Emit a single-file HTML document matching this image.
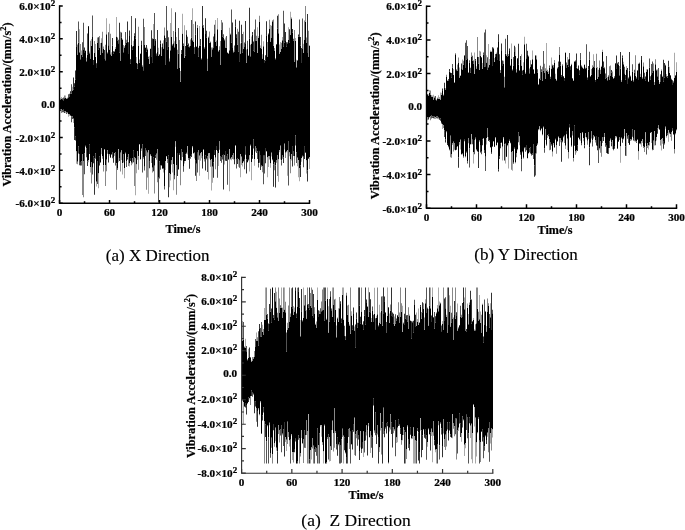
<!DOCTYPE html>
<html><head><meta charset="utf-8"><style>
html,body{margin:0;padding:0;background:#fff;}
svg{display:block;filter:grayscale(1);}
</style></head><body>
<svg width="685" height="530" viewBox="0 0 685 530">
<rect width="685" height="530" fill="#fff"/>
<path d="M60 100.0h1V109.6h-1ZM61 99.0h1V109.3h-1ZM62 99.2h1V110.2h-1ZM63 100.2h1V109.7h-1ZM64 98.3h1V111.4h-1ZM65 98.1h1V111.6h-1ZM66 98.8h1V112.3h-1ZM67 98.3h1V112.2h-1ZM68 97.3h1V114.3h-1ZM69 97.1h1V114.6h-1ZM70 93.5h1V115.0h-1ZM71 93.6h1V116.5h-1ZM72 90.5h1V116.2h-1ZM73 89.6h1V118.7h-1ZM74 86.5h1V127.3h-1ZM75 79.7h1V136.5h-1ZM76 46.2h1V151.6h-1ZM77 54.9h1V161.8h-1ZM78 42.8h1V146.2h-1ZM79 52.3h1V153.9h-1ZM80 59.3h1V162.0h-1ZM81 55.0h1V161.3h-1ZM82 56.4h1V153.9h-1ZM83 50.0h1V160.9h-1ZM84 52.9h1V153.4h-1ZM85 51.1h1V145.7h-1ZM86 61.3h1V148.6h-1ZM87 54.4h1V161.2h-1ZM88 27.0h1V160.3h-1ZM89 53.3h1V144.4h-1ZM90 58.6h1V167.0h-1ZM91 45.9h1V162.1h-1ZM92 37.1h1V167.7h-1ZM93 64.9h1V156.6h-1ZM94 52.9h1V158.3h-1ZM95 57.1h1V153.2h-1ZM96 68.0h1V181.8h-1ZM97 42.9h1V160.9h-1ZM98 49.4h1V173.5h-1ZM99 47.5h1V156.5h-1ZM100 55.0h1V162.0h-1ZM101 42.6h1V148.0h-1ZM102 52.9h1V156.5h-1ZM103 48.9h1V165.2h-1ZM104 58.9h1V148.9h-1ZM105 60.2h1V164.9h-1ZM106 34.3h1V159.8h-1ZM107 53.2h1V150.3h-1ZM108 45.3h1V154.0h-1ZM109 49.4h1V154.3h-1ZM110 54.3h1V157.3h-1ZM111 55.7h1V154.0h-1ZM112 45.6h1V152.1h-1ZM113 53.8h1V157.1h-1ZM114 51.5h1V153.2h-1ZM115 49.0h1V152.5h-1ZM116 36.6h1V163.2h-1ZM117 40.9h1V168.5h-1ZM118 43.2h1V149.3h-1ZM119 52.4h1V158.8h-1ZM120 60.5h1V152.8h-1ZM121 37.8h1V150.6h-1ZM122 39.6h1V163.3h-1ZM123 52.3h1V154.0h-1ZM124 47.6h1V167.9h-1ZM125 44.5h1V152.7h-1ZM126 43.1h1V161.4h-1ZM127 41.3h1V157.6h-1ZM128 54.0h1V154.3h-1ZM129 36.0h1V163.5h-1ZM130 63.7h1V157.9h-1ZM131 45.1h1V162.8h-1ZM132 49.8h1V157.9h-1ZM133 45.8h1V150.6h-1ZM134 35.8h1V157.4h-1ZM135 38.8h1V158.4h-1ZM136 62.9h1V164.6h-1ZM137 68.4h1V151.0h-1ZM138 45.4h1V156.2h-1ZM139 62.8h1V144.3h-1ZM140 53.9h1V159.3h-1ZM141 44.3h1V148.8h-1ZM142 66.6h1V144.6h-1ZM143 70.2h1V157.5h-1ZM144 44.9h1V166.7h-1ZM145 47.8h1V147.9h-1ZM146 51.4h1V150.7h-1ZM147 49.3h1V152.8h-1ZM148 58.8h1V149.9h-1ZM149 64.0h1V161.8h-1ZM150 49.1h1V154.6h-1ZM151 56.2h1V156.5h-1ZM152 62.3h1V167.7h-1ZM153 39.1h1V157.2h-1ZM154 45.2h1V165.8h-1ZM155 40.2h1V155.3h-1ZM156 55.3h1V153.8h-1ZM157 52.0h1V149.3h-1ZM158 55.8h1V177.7h-1ZM159 54.8h1V161.2h-1ZM160 43.6h1V165.8h-1ZM161 55.7h1V165.1h-1ZM162 46.2h1V168.2h-1ZM163 48.5h1V168.8h-1ZM164 35.2h1V186.1h-1ZM165 65.1h1V161.0h-1ZM166 41.4h1V155.9h-1ZM167 49.2h1V159.2h-1ZM168 46.6h1V155.4h-1ZM169 61.2h1V172.9h-1ZM170 50.3h1V174.4h-1ZM171 36.9h1V160.5h-1ZM172 45.3h1V157.3h-1ZM173 43.3h1V164.0h-1ZM174 47.2h1V175.8h-1ZM175 31.2h1V141.6h-1ZM176 43.8h1V164.9h-1ZM177 68.6h1V153.1h-1ZM178 53.7h1V169.1h-1ZM179 68.0h1V153.8h-1ZM180 81.7h1V160.1h-1ZM181 53.7h1V149.6h-1ZM182 33.6h1V152.0h-1ZM183 45.8h1V166.8h-1ZM184 57.8h1V161.1h-1ZM185 55.7h1V154.2h-1ZM186 34.2h1V152.1h-1ZM187 44.8h1V146.0h-1ZM188 46.4h1V157.9h-1ZM189 47.2h1V158.8h-1ZM190 46.1h1V156.6h-1ZM191 37.8h1V154.8h-1ZM192 40.2h1V146.6h-1ZM193 41.9h1V152.9h-1ZM194 54.1h1V152.7h-1ZM195 34.8h1V160.7h-1ZM196 47.0h1V163.8h-1ZM197 27.9h1V152.7h-1ZM198 56.5h1V149.9h-1ZM199 45.4h1V155.8h-1ZM200 45.7h1V153.4h-1ZM201 59.3h1V152.0h-1ZM202 25.9h1V156.1h-1ZM203 27.9h1V149.0h-1ZM204 48.4h1V159.4h-1ZM205 34.0h1V155.5h-1ZM206 37.6h1V158.7h-1ZM207 71.0h1V156.5h-1ZM208 37.6h1V153.5h-1ZM209 42.7h1V153.3h-1ZM210 42.5h1V160.0h-1ZM211 56.5h1V159.2h-1ZM212 49.2h1V166.8h-1ZM213 48.0h1V162.4h-1ZM214 33.2h1V150.1h-1ZM215 42.0h1V157.8h-1ZM216 45.5h1V146.1h-1ZM217 29.3h1V150.9h-1ZM218 51.5h1V153.1h-1ZM219 49.9h1V141.5h-1ZM220 65.1h1V155.9h-1ZM221 29.7h1V156.9h-1ZM222 36.5h1V155.4h-1ZM223 37.4h1V154.1h-1ZM224 40.3h1V155.0h-1ZM225 47.4h1V151.0h-1ZM226 47.5h1V156.1h-1ZM227 53.1h1V154.2h-1ZM228 53.7h1V158.9h-1ZM229 50.2h1V149.3h-1ZM230 34.6h1V158.7h-1ZM231 42.8h1V157.5h-1ZM232 47.9h1V155.1h-1ZM233 52.3h1V153.1h-1ZM234 51.9h1V159.7h-1ZM235 26.6h1V144.9h-1ZM236 37.3h1V159.0h-1ZM237 44.7h1V158.3h-1ZM238 51.5h1V159.3h-1ZM239 61.2h1V160.7h-1ZM240 53.5h1V154.2h-1ZM241 42.4h1V156.8h-1ZM242 52.7h1V163.0h-1ZM243 49.1h1V161.4h-1ZM244 47.0h1V159.7h-1ZM245 44.1h1V146.7h-1ZM246 62.8h1V159.4h-1ZM247 49.0h1V162.2h-1ZM248 56.0h1V159.8h-1ZM249 38.8h1V155.6h-1ZM250 56.3h1V144.7h-1ZM251 43.4h1V161.9h-1ZM252 34.8h1V155.4h-1ZM253 50.8h1V139.4h-1ZM254 51.7h1V159.1h-1ZM255 40.9h1V146.5h-1ZM256 40.8h1V147.9h-1ZM257 53.0h1V151.6h-1ZM258 37.8h1V163.3h-1ZM259 21.9h1V151.8h-1ZM260 47.7h1V155.0h-1ZM261 48.5h1V165.6h-1ZM262 58.5h1V165.9h-1ZM263 46.2h1V155.7h-1ZM264 62.9h1V155.8h-1ZM265 60.5h1V148.0h-1ZM266 35.3h1V151.1h-1ZM267 56.4h1V157.6h-1ZM268 34.2h1V156.5h-1ZM269 28.6h1V156.1h-1ZM270 41.5h1V163.5h-1ZM271 37.6h1V152.8h-1ZM272 21.4h1V159.2h-1ZM273 45.7h1V164.2h-1ZM274 50.5h1V162.5h-1ZM275 59.2h1V165.2h-1ZM276 44.8h1V159.9h-1ZM277 28.5h1V155.0h-1ZM278 33.2h1V159.5h-1ZM279 53.4h1V150.1h-1ZM280 51.8h1V145.7h-1ZM281 48.4h1V160.3h-1ZM282 40.3h1V155.5h-1ZM283 46.4h1V157.3h-1ZM284 42.5h1V143.7h-1ZM285 41.0h1V152.7h-1ZM286 46.8h1V151.5h-1ZM287 43.3h1V150.1h-1ZM288 39.9h1V141.1h-1ZM289 42.5h1V152.6h-1ZM290 35.0h1V159.0h-1ZM291 18.4h1V154.2h-1ZM292 32.5h1V146.8h-1ZM293 40.7h1V151.0h-1ZM294 61.9h1V156.4h-1ZM295 41.0h1V135.2h-1ZM296 67.2h1V152.3h-1ZM297 61.0h1V157.7h-1ZM298 36.4h1V159.9h-1ZM299 37.0h1V168.1h-1ZM300 45.5h1V165.6h-1ZM301 63.0h1V157.9h-1ZM302 49.0h1V155.8h-1ZM303 52.9h1V156.7h-1ZM304 39.6h1V146.8h-1ZM305 21.8h1V152.0h-1ZM306 42.9h1V160.5h-1ZM307 53.1h1V170.2h-1ZM308 56.9h1V158.1h-1ZM309 45.9h1V156.9h-1Z" fill="#000"/>
<path d="M60 109.6h1V111.1h-1ZM64 111.4h1V112.9h-1ZM70 91.3h1V93.5h-1ZM70 115.0h1V115.8h-1ZM73 77.5h1V89.6h-1ZM74 83.2h1V86.5h-1ZM74 127.3h1V140.0h-1ZM75 70.5h1V79.7h-1ZM75 136.5h1V140.6h-1ZM76 30.9h1V46.2h-1ZM80 162.0h1V165.4h-1ZM84 47.5h1V52.9h-1ZM85 145.7h1V146.5h-1ZM87 161.2h1V166.0h-1ZM88 26.1h1V27.0h-1ZM89 144.4h1V154.0h-1ZM93 60.0h1V64.9h-1ZM93 156.6h1V163.2h-1ZM94 158.3h1V194.7h-1ZM96 63.3h1V68.0h-1ZM98 37.2h1V49.4h-1ZM99 156.5h1V165.4h-1ZM104 50.1h1V58.9h-1ZM108 154.0h1V162.5h-1ZM110 157.3h1V158.1h-1ZM112 37.9h1V45.6h-1ZM113 51.2h1V53.8h-1ZM113 157.1h1V162.7h-1ZM117 168.5h1V169.7h-1ZM119 22.8h1V52.4h-1ZM119 158.8h1V161.1h-1ZM121 32.5h1V37.8h-1ZM127 21.6h1V41.3h-1ZM127 157.6h1V159.5h-1ZM128 42.2h1V54.0h-1ZM129 30.4h1V36.0h-1ZM130 59.2h1V63.7h-1ZM130 157.9h1V161.1h-1ZM132 46.5h1V49.8h-1ZM133 150.6h1V162.2h-1ZM135 18.2h1V38.8h-1ZM141 40.7h1V44.3h-1ZM146 45.0h1V51.4h-1ZM149 161.8h1V168.2h-1ZM151 30.3h1V56.2h-1ZM152 38.4h1V62.3h-1ZM153 157.2h1V171.2h-1ZM155 155.3h1V158.1h-1ZM157 30.1h1V52.0h-1ZM160 40.4h1V43.6h-1ZM162 43.5h1V46.2h-1ZM162 168.2h1V169.0h-1ZM167 30.6h1V49.2h-1ZM168 155.4h1V197.3h-1ZM175 12.2h1V31.2h-1ZM177 153.1h1V176.0h-1ZM185 46.1h1V55.7h-1ZM185 154.2h1V161.0h-1ZM186 152.1h1V153.6h-1ZM188 43.5h1V46.4h-1ZM189 46.4h1V47.2h-1ZM189 158.8h1V168.7h-1ZM191 154.8h1V157.1h-1ZM195 21.4h1V34.8h-1ZM195 160.7h1V175.7h-1ZM200 39.1h1V45.7h-1ZM202 6.0h1V25.9h-1ZM202 156.1h1V168.6h-1ZM204 47.6h1V48.4h-1ZM205 18.3h1V34.0h-1ZM205 155.5h1V170.5h-1ZM206 30.7h1V37.6h-1ZM210 41.7h1V42.5h-1ZM213 162.4h1V177.8h-1ZM214 150.1h1V155.1h-1ZM216 146.1h1V150.1h-1ZM223 154.1h1V189.4h-1ZM225 151.0h1V160.7h-1ZM226 156.1h1V161.0h-1ZM232 22.6h1V47.9h-1ZM234 159.7h1V164.3h-1ZM235 19.4h1V26.6h-1ZM236 34.2h1V37.3h-1ZM237 158.3h1V163.9h-1ZM239 20.7h1V61.2h-1ZM241 24.8h1V42.4h-1ZM245 20.9h1V44.1h-1ZM246 159.4h1V173.6h-1ZM249 7.8h1V38.8h-1ZM250 144.7h1V145.5h-1ZM252 32.0h1V34.8h-1ZM252 155.4h1V158.7h-1ZM253 41.4h1V50.8h-1ZM260 155.0h1V170.0h-1ZM264 60.0h1V62.9h-1ZM265 55.3h1V60.5h-1ZM265 148.0h1V163.2h-1ZM266 21.3h1V35.3h-1ZM272 159.2h1V160.2h-1ZM273 164.2h1V186.8h-1ZM275 58.4h1V59.2h-1ZM275 165.2h1V187.6h-1ZM276 44.0h1V44.8h-1ZM277 15.7h1V28.5h-1ZM283 157.3h1V163.0h-1ZM284 23.4h1V42.5h-1ZM285 32.1h1V41.0h-1ZM286 42.2h1V46.8h-1ZM289 29.2h1V42.5h-1ZM292 29.1h1V32.5h-1ZM292 146.8h1V166.6h-1ZM297 60.2h1V61.0h-1ZM298 34.4h1V36.4h-1ZM300 36.9h1V45.5h-1ZM300 165.6h1V177.0h-1ZM301 48.1h1V63.0h-1ZM302 155.8h1V156.6h-1ZM304 146.8h1V159.0h-1ZM307 13.9h1V53.1h-1ZM307 170.2h1V181.4h-1Z" fill="#333"/>
<path d="M62 98.2h1V99.2h-1ZM62 110.2h1V112.3h-1ZM63 97.6h1V100.2h-1ZM63 109.7h1V112.2h-1ZM66 112.3h1V113.9h-1ZM67 112.2h1V113.2h-1ZM68 94.3h1V97.3h-1ZM69 93.8h1V97.1h-1ZM71 84.2h1V93.6h-1ZM71 116.5h1V122.3h-1ZM72 116.2h1V119.0h-1ZM78 21.4h1V42.8h-1ZM78 146.2h1V153.6h-1ZM79 153.9h1V165.3h-1ZM81 161.3h1V165.5h-1ZM82 42.2h1V56.4h-1ZM83 22.8h1V50.0h-1ZM84 153.4h1V174.3h-1ZM86 148.6h1V157.3h-1ZM87 33.5h1V54.4h-1ZM92 15.4h1V37.1h-1ZM92 167.7h1V174.6h-1ZM95 153.2h1V158.7h-1ZM97 160.9h1V183.9h-1ZM100 162.0h1V162.8h-1ZM107 52.4h1V53.2h-1ZM108 32.2h1V45.3h-1ZM111 154.0h1V154.8h-1ZM112 152.1h1V158.2h-1ZM115 152.5h1V165.4h-1ZM117 37.6h1V40.9h-1ZM118 39.8h1V43.2h-1ZM125 31.9h1V44.5h-1ZM125 152.7h1V153.5h-1ZM126 161.4h1V167.1h-1ZM131 15.9h1V45.1h-1ZM134 33.3h1V35.8h-1ZM137 63.7h1V68.4h-1ZM142 65.6h1V66.6h-1ZM142 144.6h1V172.5h-1ZM143 18.8h1V70.2h-1ZM144 166.7h1V170.6h-1ZM145 147.9h1V156.0h-1ZM148 56.8h1V58.8h-1ZM154 12.9h1V45.2h-1ZM155 38.9h1V40.2h-1ZM156 53.4h1V55.3h-1ZM158 177.7h1V202.5h-1ZM159 54.0h1V54.8h-1ZM159 161.2h1V178.6h-1ZM160 165.8h1V169.7h-1ZM164 186.1h1V189.6h-1ZM165 38.0h1V65.1h-1ZM166 6.0h1V41.4h-1ZM168 37.2h1V46.6h-1ZM174 175.8h1V179.2h-1ZM178 28.1h1V53.7h-1ZM179 153.8h1V155.1h-1ZM181 50.0h1V53.7h-1ZM181 149.6h1V160.5h-1ZM183 43.6h1V45.8h-1ZM183 166.8h1V171.8h-1ZM186 30.2h1V34.2h-1ZM187 36.8h1V44.8h-1ZM190 156.6h1V158.7h-1ZM191 20.1h1V37.8h-1ZM194 47.3h1V54.1h-1ZM197 152.7h1V172.4h-1ZM198 47.7h1V56.5h-1ZM201 58.5h1V59.3h-1ZM203 149.0h1V149.8h-1ZM207 156.5h1V172.1h-1ZM208 36.8h1V37.6h-1ZM213 36.5h1V48.0h-1ZM214 24.7h1V33.2h-1ZM217 150.9h1V177.8h-1ZM218 50.7h1V51.5h-1ZM220 155.9h1V161.1h-1ZM221 156.9h1V162.8h-1ZM222 22.6h1V36.5h-1ZM222 155.4h1V159.5h-1ZM223 34.2h1V37.4h-1ZM224 39.5h1V40.3h-1ZM226 36.0h1V47.5h-1ZM227 154.2h1V184.7h-1ZM228 158.9h1V159.7h-1ZM230 33.8h1V34.6h-1ZM231 9.5h1V42.8h-1ZM234 45.4h1V51.9h-1ZM236 159.0h1V168.4h-1ZM238 31.7h1V51.5h-1ZM239 160.7h1V167.8h-1ZM242 33.9h1V52.7h-1ZM244 42.5h1V47.0h-1ZM244 159.7h1V169.2h-1ZM245 146.7h1V154.7h-1ZM247 40.8h1V49.0h-1ZM248 159.8h1V160.6h-1ZM253 139.4h1V148.4h-1ZM254 29.4h1V51.7h-1ZM255 19.4h1V40.9h-1ZM256 147.9h1V152.9h-1ZM257 151.6h1V159.1h-1ZM258 163.3h1V167.6h-1ZM259 151.8h1V162.8h-1ZM261 165.6h1V166.4h-1ZM263 155.7h1V184.3h-1ZM264 155.8h1V173.6h-1ZM268 33.4h1V34.2h-1ZM272 20.6h1V21.4h-1ZM281 160.3h1V165.6h-1ZM283 10.7h1V46.4h-1ZM288 141.1h1V185.4h-1ZM293 38.7h1V40.7h-1ZM293 151.0h1V155.9h-1ZM295 135.2h1V145.6h-1ZM296 152.3h1V162.9h-1ZM299 19.4h1V37.0h-1ZM302 18.5h1V49.0h-1ZM303 156.7h1V167.2h-1ZM305 152.0h1V153.1h-1ZM308 158.1h1V159.0h-1Z" fill="#555"/>
<path d="M60 98.6h1V100.0h-1ZM61 109.3h1V113.0h-1ZM64 95.6h1V98.3h-1ZM77 44.6h1V54.9h-1ZM77 161.8h1V164.2h-1ZM80 43.9h1V59.3h-1ZM82 153.9h1V195.0h-1ZM83 160.9h1V197.3h-1ZM90 40.7h1V58.6h-1ZM91 162.1h1V183.4h-1ZM94 40.9h1V52.9h-1ZM97 37.4h1V42.9h-1ZM99 36.1h1V47.5h-1ZM102 31.8h1V52.9h-1ZM102 156.5h1V158.7h-1ZM103 46.5h1V48.9h-1ZM103 165.2h1V171.4h-1ZM104 148.9h1V149.7h-1ZM105 44.7h1V60.2h-1ZM105 164.9h1V186.0h-1ZM106 159.8h1V171.2h-1ZM107 150.3h1V153.8h-1ZM110 33.8h1V54.3h-1ZM114 50.7h1V51.5h-1ZM116 163.2h1V189.7h-1ZM120 31.7h1V60.5h-1ZM120 152.8h1V171.6h-1ZM123 45.1h1V52.3h-1ZM123 154.0h1V162.6h-1ZM124 46.2h1V47.6h-1ZM126 39.7h1V43.1h-1ZM128 154.3h1V166.1h-1ZM131 162.8h1V165.2h-1ZM132 157.9h1V163.5h-1ZM134 157.4h1V185.9h-1ZM138 26.8h1V45.4h-1ZM138 156.2h1V169.8h-1ZM139 59.6h1V62.8h-1ZM143 157.5h1V158.7h-1ZM144 27.1h1V44.9h-1ZM146 150.7h1V189.8h-1ZM147 152.8h1V177.5h-1ZM150 154.6h1V155.4h-1ZM151 156.5h1V163.1h-1ZM152 167.7h1V172.6h-1ZM154 165.8h1V193.5h-1ZM156 153.8h1V159.8h-1ZM157 149.3h1V182.2h-1ZM161 165.1h1V165.9h-1ZM164 27.4h1V35.2h-1ZM167 159.2h1V162.9h-1ZM171 160.5h1V164.6h-1ZM172 44.2h1V45.3h-1ZM173 30.9h1V43.3h-1ZM176 164.9h1V194.8h-1ZM177 49.7h1V68.6h-1ZM178 169.1h1V169.9h-1ZM179 39.9h1V68.0h-1ZM180 71.0h1V81.7h-1ZM180 160.1h1V185.2h-1ZM182 152.0h1V157.1h-1ZM188 157.9h1V160.1h-1ZM190 39.5h1V46.1h-1ZM196 46.2h1V47.0h-1ZM196 163.8h1V181.1h-1ZM197 25.0h1V27.9h-1ZM198 149.9h1V159.8h-1ZM203 25.1h1V27.9h-1ZM204 159.4h1V161.6h-1ZM206 158.7h1V159.5h-1ZM207 58.8h1V71.0h-1ZM209 31.4h1V42.7h-1ZM210 160.0h1V166.7h-1ZM211 47.6h1V56.5h-1ZM212 47.4h1V49.2h-1ZM215 157.8h1V169.3h-1ZM216 40.5h1V45.5h-1ZM219 46.2h1V49.9h-1ZM219 141.5h1V149.7h-1ZM220 40.9h1V65.1h-1ZM221 20.0h1V29.7h-1ZM227 52.3h1V53.1h-1ZM228 52.9h1V53.7h-1ZM230 158.7h1V159.5h-1ZM232 155.1h1V159.1h-1ZM233 153.1h1V159.6h-1ZM235 144.9h1V145.9h-1ZM237 28.8h1V44.7h-1ZM246 49.4h1V62.8h-1ZM248 55.2h1V56.0h-1ZM250 44.8h1V56.3h-1ZM255 146.5h1V151.5h-1ZM256 35.8h1V40.8h-1ZM259 15.8h1V21.9h-1ZM261 34.8h1V48.5h-1ZM262 165.9h1V172.2h-1ZM267 42.1h1V56.4h-1ZM269 19.7h1V28.6h-1ZM269 156.1h1V159.6h-1ZM271 25.8h1V37.6h-1ZM273 19.4h1V45.7h-1ZM274 47.9h1V50.5h-1ZM274 162.5h1V170.2h-1ZM276 159.9h1V162.8h-1ZM277 155.0h1V176.0h-1ZM278 14.3h1V33.2h-1ZM281 42.7h1V48.4h-1ZM282 155.5h1V158.7h-1ZM285 152.7h1V157.9h-1ZM286 151.5h1V152.3h-1ZM287 42.1h1V43.3h-1ZM290 159.0h1V173.2h-1ZM291 17.6h1V18.4h-1ZM294 30.1h1V61.9h-1ZM294 156.4h1V165.6h-1ZM304 20.4h1V39.6h-1ZM305 6.0h1V21.8h-1ZM306 37.5h1V42.9h-1ZM308 30.8h1V56.9h-1Z" fill="#888"/>
<path d="M61 97.1h1V99.0h-1ZM65 95.4h1V98.1h-1ZM65 111.6h1V113.1h-1ZM66 97.9h1V98.8h-1ZM67 97.5h1V98.3h-1ZM68 114.3h1V116.7h-1ZM69 114.6h1V115.8h-1ZM72 86.7h1V90.5h-1ZM73 118.7h1V123.1h-1ZM76 151.6h1V163.7h-1ZM79 29.2h1V52.3h-1ZM81 50.6h1V55.0h-1ZM85 50.3h1V51.1h-1ZM86 57.7h1V61.3h-1ZM88 160.3h1V162.2h-1ZM89 51.4h1V53.3h-1ZM90 167.0h1V172.6h-1ZM91 38.9h1V45.9h-1ZM95 44.1h1V57.1h-1ZM96 181.8h1V186.5h-1ZM98 173.5h1V188.3h-1ZM100 43.0h1V55.0h-1ZM101 38.2h1V42.6h-1ZM101 148.0h1V154.2h-1ZM106 18.3h1V34.3h-1ZM109 23.8h1V49.4h-1ZM109 154.3h1V155.6h-1ZM111 52.2h1V55.7h-1ZM114 153.2h1V155.9h-1ZM115 46.9h1V49.0h-1ZM116 17.1h1V36.6h-1ZM118 149.3h1V162.2h-1ZM121 150.6h1V160.0h-1ZM122 38.8h1V39.6h-1ZM122 163.3h1V174.5h-1ZM124 167.9h1V178.2h-1ZM129 163.5h1V166.6h-1ZM133 40.7h1V45.8h-1ZM135 158.4h1V195.3h-1ZM136 57.0h1V62.9h-1ZM136 164.6h1V173.3h-1ZM137 151.0h1V159.7h-1ZM139 144.3h1V145.1h-1ZM140 53.1h1V53.9h-1ZM140 159.3h1V160.1h-1ZM141 148.8h1V151.0h-1ZM145 47.0h1V47.8h-1ZM147 47.7h1V49.3h-1ZM148 149.9h1V193.7h-1ZM149 55.7h1V64.0h-1ZM150 48.3h1V49.1h-1ZM153 24.1h1V39.1h-1ZM158 47.8h1V55.8h-1ZM161 47.3h1V55.7h-1ZM163 40.2h1V48.5h-1ZM163 168.8h1V172.6h-1ZM165 161.0h1V170.1h-1ZM166 155.9h1V156.7h-1ZM169 58.4h1V61.2h-1ZM169 172.9h1V187.3h-1ZM170 23.1h1V50.3h-1ZM170 174.4h1V180.6h-1ZM171 8.3h1V36.9h-1ZM172 157.3h1V172.6h-1ZM173 164.0h1V190.2h-1ZM174 41.3h1V47.2h-1ZM175 141.6h1V146.7h-1ZM176 37.1h1V43.8h-1ZM182 13.8h1V33.6h-1ZM184 25.2h1V57.8h-1ZM184 161.1h1V163.6h-1ZM187 146.0h1V154.6h-1ZM192 8.3h1V40.2h-1ZM192 146.6h1V147.4h-1ZM193 24.1h1V41.9h-1ZM193 152.9h1V154.1h-1ZM194 152.7h1V158.4h-1ZM199 25.9h1V45.4h-1ZM199 155.8h1V175.8h-1ZM200 153.4h1V160.7h-1ZM201 152.0h1V158.2h-1ZM208 153.5h1V179.5h-1ZM209 153.3h1V158.6h-1ZM211 159.2h1V190.4h-1ZM212 166.8h1V182.8h-1ZM215 20.1h1V42.0h-1ZM217 17.9h1V29.3h-1ZM218 153.1h1V165.9h-1ZM224 155.0h1V164.6h-1ZM225 37.5h1V47.4h-1ZM229 27.8h1V50.2h-1ZM229 149.3h1V191.2h-1ZM231 157.5h1V160.2h-1ZM233 50.6h1V52.3h-1ZM238 159.3h1V166.7h-1ZM240 43.4h1V53.5h-1ZM240 154.2h1V177.3h-1ZM241 156.8h1V165.1h-1ZM242 163.0h1V166.5h-1ZM243 31.7h1V49.1h-1ZM243 161.4h1V162.2h-1ZM247 162.2h1V163.0h-1ZM249 155.6h1V171.5h-1ZM251 36.5h1V43.4h-1ZM251 161.9h1V180.3h-1ZM254 159.1h1V165.7h-1ZM257 27.2h1V53.0h-1ZM258 36.3h1V37.8h-1ZM260 45.6h1V47.7h-1ZM262 54.2h1V58.5h-1ZM263 41.3h1V46.2h-1ZM266 151.1h1V151.9h-1ZM267 157.6h1V177.2h-1ZM268 156.5h1V167.0h-1ZM270 25.0h1V41.5h-1ZM270 163.5h1V167.8h-1ZM271 152.8h1V156.6h-1ZM278 159.5h1V181.7h-1ZM279 44.6h1V53.4h-1ZM279 150.1h1V152.3h-1ZM280 42.1h1V51.8h-1ZM280 145.7h1V159.5h-1ZM282 37.0h1V40.3h-1ZM284 143.7h1V149.4h-1ZM287 150.1h1V175.7h-1ZM288 27.3h1V39.9h-1ZM289 152.6h1V156.3h-1ZM290 11.8h1V35.0h-1ZM291 154.2h1V160.6h-1ZM295 38.1h1V41.0h-1ZM296 59.7h1V67.2h-1ZM297 157.7h1V166.2h-1ZM298 159.9h1V177.2h-1ZM299 168.1h1V181.2h-1ZM301 157.9h1V161.8h-1ZM303 43.8h1V52.9h-1ZM306 160.5h1V173.5h-1ZM309 45.1h1V45.9h-1ZM309 156.9h1V169.1h-1Z" fill="#aaa"/>
<path d="M59.55 6V203.2H309.5" stroke="#000" stroke-width="1.4" fill="none" stroke-linecap="square"/>
<path d="M59.55 6.00h3.2M59.55 22.43h2M59.55 38.87h3.2M59.55 55.30h2M59.55 71.73h3.2M59.55 88.17h2M59.55 104.60h3.2M59.55 121.03h2M59.55 137.47h3.2M59.55 153.90h2M59.55 170.33h3.2M59.55 186.77h2M59.55 203.20h3.2M59.55 203.2v-3.2M84.54 203.2v-2M109.54 203.2v-3.2M134.53 203.2v-2M159.53 203.2v-3.2M184.52 203.2v-2M209.52 203.2v-3.2M234.51 203.2v-2M259.51 203.2v-3.2M284.50 203.2v-2M309.50 203.2v-3.2" stroke="#000" stroke-width="1.5" fill="none"/>
<text transform="translate(55.15,10.20) scale(1.2,1)" text-anchor="end" font-family='"Liberation Serif", serif' font-weight="bold" font-size="9.3" stroke="#000" stroke-width="0.2" >6.0×10<tspan font-size="7.5" dy="-4">2</tspan></text>
<text transform="translate(55.15,43.07) scale(1.2,1)" text-anchor="end" font-family='"Liberation Serif", serif' font-weight="bold" font-size="9.3" stroke="#000" stroke-width="0.2" >4.0×10<tspan font-size="7.5" dy="-4">2</tspan></text>
<text transform="translate(55.15,75.93) scale(1.2,1)" text-anchor="end" font-family='"Liberation Serif", serif' font-weight="bold" font-size="9.3" stroke="#000" stroke-width="0.2" >2.0×10<tspan font-size="7.5" dy="-4">2</tspan></text>
<text transform="translate(55.15,107.70) scale(1.2,1)" text-anchor="end" font-family='"Liberation Serif", serif' font-weight="bold" font-size="9.3" stroke="#000" stroke-width="0.2" >0.0</text>
<text transform="translate(55.15,141.67) scale(1.2,1)" text-anchor="end" font-family='"Liberation Serif", serif' font-weight="bold" font-size="9.3" stroke="#000" stroke-width="0.2" >-2.0×10<tspan font-size="7.5" dy="-4">2</tspan></text>
<text transform="translate(55.15,174.53) scale(1.2,1)" text-anchor="end" font-family='"Liberation Serif", serif' font-weight="bold" font-size="9.3" stroke="#000" stroke-width="0.2" >-4.0×10<tspan font-size="7.5" dy="-4">2</tspan></text>
<text transform="translate(55.15,207.40) scale(1.2,1)" text-anchor="end" font-family='"Liberation Serif", serif' font-weight="bold" font-size="9.3" stroke="#000" stroke-width="0.2" >-6.0×10<tspan font-size="7.5" dy="-4">2</tspan></text>
<text transform="translate(59.55,215.70) scale(1.2,1)" text-anchor="middle" font-family='"Liberation Serif", serif' font-weight="bold" font-size="9.3" stroke="#000" stroke-width="0.2" >0</text>
<text transform="translate(109.54,215.70) scale(1.2,1)" text-anchor="middle" font-family='"Liberation Serif", serif' font-weight="bold" font-size="9.3" stroke="#000" stroke-width="0.2" >60</text>
<text transform="translate(159.53,215.70) scale(1.2,1)" text-anchor="middle" font-family='"Liberation Serif", serif' font-weight="bold" font-size="9.3" stroke="#000" stroke-width="0.2" >120</text>
<text transform="translate(209.52,215.70) scale(1.2,1)" text-anchor="middle" font-family='"Liberation Serif", serif' font-weight="bold" font-size="9.3" stroke="#000" stroke-width="0.2" >180</text>
<text transform="translate(259.51,215.70) scale(1.2,1)" text-anchor="middle" font-family='"Liberation Serif", serif' font-weight="bold" font-size="9.3" stroke="#000" stroke-width="0.2" >240</text>
<text transform="translate(309.50,215.70) scale(1.2,1)" text-anchor="middle" font-family='"Liberation Serif", serif' font-weight="bold" font-size="9.3" stroke="#000" stroke-width="0.2" >300</text>
<text transform="translate(183.00,233.00) scale(1.05,1)" text-anchor="middle" font-family='"Liberation Serif", serif' font-weight="bold" font-size="11.6" stroke="#000" stroke-width="0.2" >Time/s</text>
<text transform="translate(10.5,104.5) rotate(-90) scale(1.058,1)" text-anchor="middle" font-family='"Liberation Serif", serif' font-weight="bold" font-size="11.65" stroke="#000" stroke-width="0.2">Vibration Acceleration/(mm/s<tspan font-size="8" dy="-4.8">2</tspan><tspan dy="4.8">)</tspan></text>
<text transform="translate(157.70,260.60) scale(1.0,1)" text-anchor="middle" font-family='"Liberation Serif", serif' font-weight="normal" font-size="17" stroke="#000" stroke-width="0.15" xml:space="preserve">(a) X Direction</text>
<path d="M427 95.1h1V117.1h-1ZM428 95.7h1V116.9h-1ZM429 92.8h1V116.9h-1ZM430 94.6h1V115.9h-1ZM431 96.9h1V115.0h-1ZM432 96.7h1V116.5h-1ZM433 99.5h1V116.3h-1ZM434 97.4h1V116.8h-1ZM435 99.3h1V117.3h-1ZM436 100.3h1V116.5h-1ZM437 98.5h1V116.6h-1ZM438 98.9h1V117.7h-1ZM439 99.0h1V117.9h-1ZM440 99.6h1V118.5h-1ZM441 95.1h1V122.8h-1ZM442 91.1h1V124.5h-1ZM443 95.2h1V125.3h-1ZM444 87.2h1V130.4h-1ZM445 89.5h1V139.6h-1ZM446 76.6h1V131.5h-1ZM447 80.9h1V142.9h-1ZM448 80.9h1V146.5h-1ZM449 71.8h1V149.4h-1ZM450 72.7h1V135.8h-1ZM451 77.4h1V154.4h-1ZM452 67.7h1V143.2h-1ZM453 74.8h1V141.7h-1ZM454 82.8h1V142.9h-1ZM455 54.4h1V150.0h-1ZM456 70.3h1V146.9h-1ZM457 70.9h1V146.0h-1ZM458 62.5h1V157.6h-1ZM459 77.4h1V142.2h-1ZM460 75.9h1V139.8h-1ZM461 69.1h1V154.0h-1ZM462 69.4h1V153.4h-1ZM463 64.8h1V156.6h-1ZM464 55.8h1V139.8h-1ZM465 68.1h1V156.4h-1ZM466 59.7h1V151.7h-1ZM467 58.2h1V161.5h-1ZM468 72.7h1V137.9h-1ZM469 62.4h1V148.5h-1ZM470 72.4h1V144.2h-1ZM471 56.9h1V134.1h-1ZM472 60.7h1V139.8h-1ZM473 63.4h1V152.0h-1ZM474 73.9h1V140.1h-1ZM475 60.8h1V137.7h-1ZM476 68.6h1V149.4h-1ZM477 56.5h1V151.3h-1ZM478 63.8h1V152.3h-1ZM479 69.9h1V140.3h-1ZM480 55.7h1V144.9h-1ZM481 57.7h1V151.8h-1ZM482 68.8h1V139.2h-1ZM483 54.8h1V137.9h-1ZM484 66.4h1V150.0h-1ZM485 66.3h1V156.8h-1ZM486 62.6h1V138.2h-1ZM487 69.6h1V128.1h-1ZM488 67.2h1V137.0h-1ZM489 65.0h1V140.3h-1ZM490 51.4h1V147.0h-1ZM491 51.8h1V152.8h-1ZM492 65.3h1V146.0h-1ZM493 48.6h1V140.9h-1ZM494 61.7h1V146.1h-1ZM495 57.0h1V137.4h-1ZM496 53.4h1V145.2h-1ZM497 59.2h1V142.2h-1ZM498 42.0h1V169.2h-1ZM499 61.0h1V156.5h-1ZM500 72.6h1V143.4h-1ZM501 51.1h1V142.2h-1ZM502 65.3h1V146.8h-1ZM503 64.0h1V137.1h-1ZM504 87.3h1V144.2h-1ZM505 53.8h1V143.7h-1ZM506 55.8h1V156.1h-1ZM507 56.5h1V145.4h-1ZM508 55.9h1V143.4h-1ZM509 51.0h1V139.8h-1ZM510 65.6h1V141.9h-1ZM511 58.7h1V152.1h-1ZM512 70.3h1V151.0h-1ZM513 65.6h1V162.7h-1ZM514 51.9h1V147.8h-1ZM515 55.8h1V162.5h-1ZM516 72.3h1V153.6h-1ZM517 58.9h1V149.5h-1ZM518 64.8h1V132.5h-1ZM519 71.1h1V136.5h-1ZM520 59.8h1V152.7h-1ZM521 65.6h1V159.4h-1ZM522 74.5h1V151.7h-1ZM523 69.6h1V157.8h-1ZM524 44.2h1V147.8h-1ZM525 73.4h1V147.8h-1ZM526 58.2h1V145.1h-1ZM527 55.0h1V157.9h-1ZM528 56.3h1V152.9h-1ZM529 73.2h1V148.3h-1ZM530 67.1h1V147.5h-1ZM531 64.8h1V154.6h-1ZM532 59.2h1V153.1h-1ZM533 70.0h1V144.1h-1ZM534 73.7h1V165.3h-1ZM535 55.8h1V153.7h-1ZM536 59.2h1V145.9h-1ZM537 72.5h1V143.4h-1ZM538 85.1h1V129.5h-1ZM539 79.1h1V126.5h-1ZM540 79.7h1V130.4h-1ZM541 71.7h1V128.2h-1ZM542 80.8h1V134.7h-1ZM543 70.4h1V126.8h-1ZM544 72.5h1V148.5h-1ZM545 79.0h1V128.9h-1ZM546 70.5h1V144.8h-1ZM547 71.9h1V135.3h-1ZM548 73.9h1V134.4h-1ZM549 67.4h1V139.2h-1ZM550 79.1h1V142.1h-1ZM551 68.4h1V144.2h-1ZM552 65.6h1V151.8h-1ZM553 67.3h1V143.3h-1ZM554 62.4h1V147.0h-1ZM555 78.6h1V137.9h-1ZM556 80.5h1V145.4h-1ZM557 68.2h1V141.2h-1ZM558 66.4h1V136.8h-1ZM559 54.4h1V138.2h-1ZM560 65.5h1V138.6h-1ZM561 76.3h1V140.3h-1ZM562 65.4h1V141.7h-1ZM563 76.9h1V136.5h-1ZM564 80.9h1V135.8h-1ZM565 52.9h1V145.8h-1ZM566 68.0h1V131.1h-1ZM567 65.0h1V138.7h-1ZM568 66.7h1V152.5h-1ZM569 59.1h1V124.7h-1ZM570 69.9h1V137.3h-1ZM571 64.6h1V145.7h-1ZM572 78.8h1V131.1h-1ZM573 80.9h1V158.3h-1ZM574 62.0h1V125.4h-1ZM575 61.2h1V151.4h-1ZM576 67.4h1V150.6h-1ZM577 69.0h1V145.3h-1ZM578 69.1h1V137.3h-1ZM579 74.7h1V139.4h-1ZM580 59.8h1V132.9h-1ZM581 66.2h1V143.1h-1ZM582 67.6h1V132.4h-1ZM583 68.8h1V137.9h-1ZM584 64.7h1V145.5h-1ZM585 68.6h1V133.0h-1ZM586 67.4h1V137.6h-1ZM587 79.9h1V140.8h-1ZM588 69.6h1V132.0h-1ZM589 59.5h1V147.4h-1ZM590 76.8h1V142.7h-1ZM591 74.7h1V131.5h-1ZM592 67.7h1V140.2h-1ZM593 66.6h1V135.5h-1ZM594 68.0h1V135.9h-1ZM595 82.0h1V139.9h-1ZM596 68.0h1V135.9h-1ZM597 79.1h1V146.8h-1ZM598 76.6h1V137.1h-1ZM599 67.5h1V148.6h-1ZM600 73.4h1V141.5h-1ZM601 66.6h1V146.6h-1ZM602 51.9h1V137.4h-1ZM603 67.6h1V137.1h-1ZM604 68.3h1V133.2h-1ZM605 78.7h1V143.6h-1ZM606 77.4h1V145.8h-1ZM607 80.3h1V152.9h-1ZM608 76.4h1V147.9h-1ZM609 79.4h1V141.6h-1ZM610 76.0h1V138.7h-1ZM611 72.5h1V142.3h-1ZM612 76.9h1V140.1h-1ZM613 79.0h1V149.5h-1ZM614 77.9h1V146.7h-1ZM615 63.8h1V136.0h-1ZM616 68.2h1V136.4h-1ZM617 63.2h1V148.1h-1ZM618 64.8h1V141.1h-1ZM619 75.2h1V137.4h-1ZM620 68.6h1V146.4h-1ZM621 81.6h1V137.8h-1ZM622 57.6h1V139.2h-1ZM623 64.2h1V138.7h-1ZM624 73.3h1V129.1h-1ZM625 79.4h1V146.2h-1ZM626 69.5h1V133.2h-1ZM627 84.0h1V136.8h-1ZM628 78.3h1V135.5h-1ZM629 70.7h1V144.1h-1ZM630 76.2h1V139.2h-1ZM631 80.7h1V139.5h-1ZM632 71.5h1V129.5h-1ZM633 81.4h1V138.7h-1ZM634 72.4h1V130.6h-1ZM635 75.8h1V140.8h-1ZM636 78.4h1V141.3h-1ZM637 70.8h1V139.3h-1ZM638 80.1h1V151.6h-1ZM639 63.3h1V142.9h-1ZM640 77.1h1V143.5h-1ZM641 59.9h1V141.0h-1ZM642 78.5h1V139.2h-1ZM643 66.3h1V146.4h-1ZM644 79.1h1V147.1h-1ZM645 80.7h1V132.6h-1ZM646 72.0h1V146.6h-1ZM647 69.8h1V143.3h-1ZM648 81.8h1V145.6h-1ZM649 67.4h1V142.3h-1ZM650 79.4h1V132.1h-1ZM651 74.3h1V132.2h-1ZM652 72.6h1V149.7h-1ZM653 71.0h1V140.8h-1ZM654 85.0h1V131.3h-1ZM655 64.3h1V141.8h-1ZM656 70.5h1V137.2h-1ZM657 76.3h1V128.4h-1ZM658 79.8h1V125.6h-1ZM659 83.8h1V129.2h-1ZM660 82.0h1V140.2h-1ZM661 70.9h1V138.9h-1ZM662 76.6h1V138.2h-1ZM663 81.6h1V141.8h-1ZM664 77.8h1V142.9h-1ZM665 65.3h1V126.8h-1ZM666 76.3h1V136.5h-1ZM667 77.6h1V133.0h-1ZM668 66.8h1V130.1h-1ZM669 72.8h1V132.8h-1ZM670 75.9h1V134.1h-1ZM671 80.1h1V132.4h-1ZM672 84.9h1V127.9h-1ZM673 82.4h1V134.1h-1ZM674 78.0h1V149.4h-1ZM675 76.0h1V133.5h-1ZM676 72.1h1V129.4h-1Z" fill="#000"/>
<path d="M428 116.9h1V119.6h-1ZM433 116.3h1V118.2h-1ZM439 117.9h1V119.8h-1ZM440 118.5h1V120.8h-1ZM441 122.8h1V123.6h-1ZM442 88.6h1V91.1h-1ZM444 82.7h1V87.2h-1ZM445 139.6h1V142.5h-1ZM447 142.9h1V145.1h-1ZM449 69.0h1V71.8h-1ZM449 149.4h1V150.2h-1ZM451 73.1h1V77.4h-1ZM455 53.6h1V54.4h-1ZM456 69.5h1V70.3h-1ZM456 146.9h1V149.7h-1ZM458 157.6h1V167.8h-1ZM461 63.5h1V69.1h-1ZM463 156.6h1V157.4h-1ZM466 151.7h1V152.5h-1ZM475 59.1h1V60.8h-1ZM478 152.3h1V167.9h-1ZM480 144.9h1V152.4h-1ZM481 56.9h1V57.7h-1ZM482 139.2h1V145.3h-1ZM488 137.0h1V141.1h-1ZM491 152.8h1V153.7h-1ZM492 47.3h1V65.3h-1ZM492 146.0h1V146.8h-1ZM493 47.8h1V48.6h-1ZM494 146.1h1V146.9h-1ZM497 47.4h1V59.2h-1ZM498 34.2h1V42.0h-1ZM498 169.2h1V171.5h-1ZM500 143.4h1V148.3h-1ZM501 43.4h1V51.1h-1ZM501 142.2h1V143.0h-1ZM502 60.5h1V65.3h-1ZM504 144.2h1V160.5h-1ZM506 156.1h1V156.9h-1ZM507 35.1h1V56.5h-1ZM509 48.4h1V51.0h-1ZM509 139.8h1V140.8h-1ZM510 141.9h1V143.3h-1ZM514 45.7h1V51.9h-1ZM518 43.7h1V64.8h-1ZM520 56.1h1V59.8h-1ZM522 70.6h1V74.5h-1ZM526 145.1h1V150.2h-1ZM527 50.8h1V55.0h-1ZM530 147.5h1V153.4h-1ZM531 64.0h1V64.8h-1ZM531 154.6h1V155.4h-1ZM533 69.2h1V70.0h-1ZM534 165.3h1V176.8h-1ZM537 143.4h1V144.4h-1ZM546 144.8h1V145.6h-1ZM548 134.4h1V136.2h-1ZM551 144.2h1V145.4h-1ZM552 64.8h1V65.6h-1ZM555 137.9h1V139.6h-1ZM560 61.7h1V65.5h-1ZM561 140.3h1V161.8h-1ZM562 64.6h1V65.4h-1ZM563 136.5h1V137.3h-1ZM564 78.1h1V80.9h-1ZM566 131.1h1V134.2h-1ZM568 59.4h1V66.7h-1ZM569 124.7h1V127.6h-1ZM570 66.2h1V69.9h-1ZM571 145.7h1V146.5h-1ZM572 78.0h1V78.8h-1ZM574 125.4h1V145.7h-1ZM575 60.4h1V61.2h-1ZM576 53.6h1V67.4h-1ZM577 145.3h1V150.9h-1ZM578 65.5h1V69.1h-1ZM578 137.3h1V138.1h-1ZM579 70.3h1V74.7h-1ZM584 145.5h1V148.3h-1ZM587 77.6h1V79.9h-1ZM588 66.0h1V69.6h-1ZM589 147.4h1V165.3h-1ZM595 79.9h1V82.0h-1ZM596 135.9h1V145.5h-1ZM597 146.8h1V150.2h-1ZM603 61.6h1V67.6h-1ZM603 137.1h1V141.0h-1ZM604 67.5h1V68.3h-1ZM607 152.9h1V153.7h-1ZM608 75.6h1V76.4h-1ZM611 70.1h1V72.5h-1ZM611 142.3h1V146.2h-1ZM613 149.5h1V150.3h-1ZM614 146.7h1V148.7h-1ZM615 63.0h1V63.8h-1ZM616 55.4h1V68.2h-1ZM620 51.9h1V68.6h-1ZM622 55.4h1V57.6h-1ZM622 139.2h1V142.7h-1ZM625 75.1h1V79.4h-1ZM625 146.2h1V155.7h-1ZM627 68.1h1V84.0h-1ZM629 52.1h1V70.7h-1ZM629 144.1h1V144.9h-1ZM631 139.5h1V140.3h-1ZM633 80.6h1V81.4h-1ZM633 138.7h1V140.5h-1ZM636 77.6h1V78.4h-1ZM638 63.8h1V80.1h-1ZM641 55.9h1V59.9h-1ZM645 76.6h1V80.7h-1ZM650 132.1h1V132.9h-1ZM656 69.7h1V70.5h-1ZM657 128.4h1V133.7h-1ZM663 59.8h1V81.6h-1ZM663 141.8h1V148.7h-1ZM664 63.0h1V77.8h-1ZM668 60.8h1V66.8h-1ZM672 80.3h1V84.9h-1ZM673 81.6h1V82.4h-1ZM675 75.2h1V76.0h-1ZM676 129.4h1V130.2h-1Z" fill="#333"/>
<path d="M427 93.9h1V95.1h-1ZM431 115.0h1V118.6h-1ZM432 116.5h1V118.1h-1ZM435 96.0h1V99.3h-1ZM436 116.5h1V118.3h-1ZM437 97.7h1V98.5h-1ZM437 116.6h1V118.5h-1ZM444 130.4h1V136.9h-1ZM448 78.9h1V80.9h-1ZM448 146.5h1V147.3h-1ZM452 64.0h1V67.7h-1ZM462 153.4h1V154.2h-1ZM464 55.0h1V55.8h-1ZM464 139.8h1V141.3h-1ZM465 42.8h1V68.1h-1ZM465 156.4h1V157.2h-1ZM466 40.3h1V59.7h-1ZM467 46.1h1V58.2h-1ZM467 161.5h1V163.5h-1ZM469 60.2h1V62.4h-1ZM469 148.5h1V167.4h-1ZM470 67.7h1V72.4h-1ZM472 55.7h1V60.7h-1ZM472 139.8h1V144.2h-1ZM473 60.4h1V63.4h-1ZM474 140.1h1V154.2h-1ZM476 149.4h1V150.2h-1ZM478 57.1h1V63.8h-1ZM479 140.3h1V141.4h-1ZM481 151.8h1V154.2h-1ZM483 52.5h1V54.8h-1ZM484 32.5h1V66.4h-1ZM484 150.0h1V152.9h-1ZM485 29.6h1V66.3h-1ZM485 156.8h1V170.9h-1ZM487 57.3h1V69.6h-1ZM489 140.3h1V141.8h-1ZM495 53.9h1V57.0h-1ZM497 142.2h1V143.0h-1ZM499 54.2h1V61.0h-1ZM499 156.5h1V158.9h-1ZM505 38.8h1V53.8h-1ZM512 69.5h1V70.3h-1ZM513 57.1h1V65.6h-1ZM513 162.7h1V163.7h-1ZM514 147.8h1V148.8h-1ZM517 57.9h1V58.9h-1ZM518 132.5h1V142.3h-1ZM519 70.3h1V71.1h-1ZM520 152.7h1V154.7h-1ZM521 159.4h1V171.3h-1ZM523 157.8h1V158.6h-1ZM525 147.8h1V151.8h-1ZM526 43.7h1V58.2h-1ZM529 148.3h1V152.2h-1ZM532 153.1h1V154.9h-1ZM533 144.1h1V159.1h-1ZM535 55.0h1V55.8h-1ZM535 153.7h1V175.6h-1ZM537 69.3h1V72.5h-1ZM538 84.3h1V85.1h-1ZM540 65.8h1V79.7h-1ZM541 69.2h1V71.7h-1ZM541 128.2h1V129.0h-1ZM543 50.9h1V70.4h-1ZM544 148.5h1V152.7h-1ZM549 65.6h1V67.4h-1ZM550 76.8h1V79.1h-1ZM550 142.1h1V149.7h-1ZM554 147.0h1V147.8h-1ZM558 61.6h1V66.4h-1ZM559 138.2h1V146.0h-1ZM561 75.1h1V76.3h-1ZM563 76.1h1V76.9h-1ZM566 62.6h1V68.0h-1ZM569 52.9h1V59.1h-1ZM570 137.3h1V138.1h-1ZM574 61.2h1V62.0h-1ZM580 52.9h1V59.8h-1ZM581 65.4h1V66.2h-1ZM581 143.1h1V145.3h-1ZM585 67.8h1V68.6h-1ZM586 44.3h1V67.4h-1ZM589 51.7h1V59.5h-1ZM590 76.0h1V76.8h-1ZM592 140.2h1V146.6h-1ZM594 61.0h1V68.0h-1ZM594 135.9h1V136.7h-1ZM598 137.1h1V163.1h-1ZM605 73.6h1V78.7h-1ZM605 143.6h1V146.8h-1ZM606 55.9h1V77.4h-1ZM606 145.8h1V153.0h-1ZM608 147.9h1V154.1h-1ZM609 141.6h1V147.9h-1ZM613 78.2h1V79.0h-1ZM614 76.3h1V77.9h-1ZM616 136.4h1V137.2h-1ZM617 148.1h1V148.9h-1ZM618 62.0h1V64.8h-1ZM618 141.1h1V141.9h-1ZM624 66.8h1V73.3h-1ZM627 136.8h1V138.8h-1ZM628 77.5h1V78.3h-1ZM628 135.5h1V142.9h-1ZM632 64.2h1V71.5h-1ZM632 129.5h1V136.7h-1ZM634 69.7h1V72.4h-1ZM635 140.8h1V141.6h-1ZM636 141.3h1V142.9h-1ZM637 70.0h1V70.8h-1ZM637 139.3h1V140.1h-1ZM639 142.9h1V143.7h-1ZM640 143.5h1V144.3h-1ZM642 77.6h1V78.5h-1ZM644 72.8h1V79.1h-1ZM646 146.6h1V154.4h-1ZM647 69.0h1V69.8h-1ZM649 58.5h1V67.4h-1ZM650 76.2h1V79.4h-1ZM651 64.1h1V74.3h-1ZM652 61.6h1V72.6h-1ZM655 141.8h1V145.2h-1ZM658 67.9h1V79.8h-1ZM659 129.2h1V130.0h-1ZM660 74.2h1V82.0h-1ZM664 142.9h1V144.5h-1ZM667 76.1h1V77.6h-1ZM667 133.0h1V135.3h-1ZM669 132.8h1V133.6h-1ZM670 75.1h1V75.9h-1ZM671 78.8h1V80.1h-1ZM672 127.9h1V130.7h-1ZM675 133.5h1V134.3h-1Z" fill="#555"/>
<path d="M428 94.4h1V95.7h-1ZM430 90.6h1V94.6h-1ZM430 115.9h1V120.2h-1ZM431 95.2h1V96.9h-1ZM434 96.6h1V97.4h-1ZM434 116.8h1V118.7h-1ZM443 125.3h1V128.0h-1ZM445 88.2h1V89.5h-1ZM446 74.7h1V76.6h-1ZM446 131.5h1V132.3h-1ZM450 135.8h1V157.3h-1ZM451 154.4h1V157.8h-1ZM452 143.2h1V144.7h-1ZM453 141.7h1V151.5h-1ZM454 82.0h1V82.8h-1ZM454 142.9h1V149.7h-1ZM457 64.5h1V70.9h-1ZM458 57.6h1V62.5h-1ZM461 154.0h1V154.8h-1ZM463 60.8h1V64.8h-1ZM468 71.9h1V72.7h-1ZM468 137.9h1V143.3h-1ZM471 52.6h1V56.9h-1ZM475 137.7h1V139.3h-1ZM477 37.0h1V56.5h-1ZM477 151.3h1V152.1h-1ZM480 51.6h1V55.7h-1ZM483 137.9h1V138.7h-1ZM487 128.1h1V136.9h-1ZM490 147.0h1V147.8h-1ZM493 140.9h1V141.7h-1ZM500 70.0h1V72.6h-1ZM503 60.7h1V64.0h-1ZM504 76.7h1V87.3h-1ZM506 54.6h1V55.8h-1ZM508 53.9h1V55.9h-1ZM511 152.1h1V169.8h-1ZM515 162.5h1V163.3h-1ZM516 153.6h1V157.2h-1ZM517 149.5h1V150.3h-1ZM525 72.6h1V73.4h-1ZM528 152.9h1V153.7h-1ZM529 68.6h1V73.2h-1ZM530 60.3h1V67.1h-1ZM536 145.9h1V153.4h-1ZM538 129.5h1V130.3h-1ZM539 78.3h1V79.1h-1ZM540 130.4h1V131.2h-1ZM542 66.8h1V80.8h-1ZM543 126.8h1V127.6h-1ZM544 63.7h1V72.5h-1ZM545 68.2h1V79.0h-1ZM545 128.9h1V140.0h-1ZM547 69.8h1V71.9h-1ZM549 139.2h1V150.2h-1ZM553 65.0h1V67.3h-1ZM554 60.1h1V62.4h-1ZM556 79.7h1V80.5h-1ZM556 145.4h1V153.7h-1ZM557 67.4h1V68.2h-1ZM557 141.2h1V142.0h-1ZM559 46.9h1V54.4h-1ZM562 141.7h1V142.5h-1ZM564 135.8h1V142.9h-1ZM568 152.5h1V158.4h-1ZM571 63.8h1V64.6h-1ZM572 131.1h1V135.5h-1ZM573 158.3h1V161.4h-1ZM575 151.4h1V154.8h-1ZM577 68.2h1V69.0h-1ZM587 140.8h1V144.8h-1ZM588 132.0h1V139.1h-1ZM590 142.7h1V143.5h-1ZM591 69.0h1V74.7h-1ZM591 131.5h1V138.4h-1ZM592 65.2h1V67.7h-1ZM593 135.5h1V138.6h-1ZM595 139.9h1V142.5h-1ZM596 53.7h1V68.0h-1ZM598 69.7h1V76.6h-1ZM599 60.5h1V67.5h-1ZM599 148.6h1V149.4h-1ZM600 69.8h1V73.4h-1ZM600 141.5h1V152.8h-1ZM601 146.6h1V156.7h-1ZM602 137.4h1V142.9h-1ZM604 133.2h1V137.1h-1ZM609 66.3h1V79.4h-1ZM610 65.6h1V76.0h-1ZM612 71.6h1V76.9h-1ZM619 65.9h1V75.2h-1ZM619 137.4h1V140.0h-1ZM623 138.7h1V139.5h-1ZM630 75.4h1V76.2h-1ZM630 139.2h1V140.9h-1ZM634 130.6h1V141.2h-1ZM635 55.2h1V75.8h-1ZM639 62.5h1V63.3h-1ZM643 62.4h1V66.3h-1ZM643 146.4h1V148.1h-1ZM644 147.1h1V152.0h-1ZM647 143.3h1V148.0h-1ZM649 142.3h1V145.5h-1ZM653 63.4h1V71.0h-1ZM653 140.8h1V150.1h-1ZM654 81.9h1V85.0h-1ZM655 59.2h1V64.3h-1ZM657 69.5h1V76.3h-1ZM658 125.6h1V128.4h-1ZM660 140.2h1V145.4h-1ZM661 69.4h1V70.9h-1ZM671 132.4h1V140.8h-1ZM673 134.1h1V134.9h-1ZM674 149.4h1V153.4h-1Z" fill="#888"/>
<path d="M427 117.1h1V120.3h-1ZM429 90.1h1V92.8h-1ZM429 116.9h1V117.7h-1ZM432 95.5h1V96.7h-1ZM433 94.7h1V99.5h-1ZM435 117.3h1V118.9h-1ZM436 99.5h1V100.3h-1ZM438 95.3h1V98.9h-1ZM438 117.7h1V119.2h-1ZM439 97.1h1V99.0h-1ZM440 92.6h1V99.6h-1ZM441 92.7h1V95.1h-1ZM442 124.5h1V129.0h-1ZM443 94.4h1V95.2h-1ZM447 80.1h1V80.9h-1ZM450 71.9h1V72.7h-1ZM453 69.1h1V74.8h-1ZM455 150.0h1V150.8h-1ZM457 146.0h1V146.9h-1ZM459 67.4h1V77.4h-1ZM459 142.2h1V144.7h-1ZM460 75.1h1V75.9h-1ZM460 139.8h1V149.6h-1ZM462 59.6h1V69.4h-1ZM470 144.2h1V145.0h-1ZM471 134.1h1V144.3h-1ZM473 152.0h1V163.6h-1ZM474 52.4h1V73.9h-1ZM476 66.3h1V68.6h-1ZM479 50.7h1V69.9h-1ZM482 62.9h1V68.8h-1ZM486 55.3h1V62.6h-1ZM486 138.2h1V144.4h-1ZM488 44.1h1V67.2h-1ZM489 59.0h1V65.0h-1ZM490 50.6h1V51.4h-1ZM491 51.0h1V51.8h-1ZM494 57.9h1V61.7h-1ZM495 137.4h1V138.2h-1ZM496 52.6h1V53.4h-1ZM496 145.2h1V146.0h-1ZM502 146.8h1V160.5h-1ZM503 137.1h1V138.5h-1ZM505 143.7h1V163.4h-1ZM507 145.4h1V146.2h-1ZM508 143.4h1V168.5h-1ZM510 64.8h1V65.6h-1ZM511 43.4h1V58.7h-1ZM512 151.0h1V170.7h-1ZM515 47.2h1V55.8h-1ZM516 69.3h1V72.3h-1ZM519 136.5h1V145.3h-1ZM521 54.2h1V65.6h-1ZM522 151.7h1V152.5h-1ZM523 62.2h1V69.6h-1ZM524 36.8h1V44.2h-1ZM524 147.8h1V148.6h-1ZM527 157.9h1V158.8h-1ZM528 55.5h1V56.3h-1ZM532 50.4h1V59.2h-1ZM534 72.9h1V73.7h-1ZM536 55.6h1V59.2h-1ZM539 126.5h1V129.5h-1ZM542 134.7h1V135.5h-1ZM546 43.0h1V70.5h-1ZM547 135.3h1V138.1h-1ZM548 71.3h1V73.9h-1ZM551 57.6h1V68.4h-1ZM552 151.8h1V156.4h-1ZM553 143.3h1V144.8h-1ZM555 73.7h1V78.6h-1ZM558 136.8h1V137.6h-1ZM560 138.6h1V142.3h-1ZM565 52.1h1V52.9h-1ZM565 145.8h1V149.0h-1ZM567 57.1h1V65.0h-1ZM567 138.7h1V149.9h-1ZM573 80.1h1V80.9h-1ZM576 150.6h1V152.4h-1ZM579 139.4h1V140.2h-1ZM580 132.9h1V140.7h-1ZM582 66.8h1V67.6h-1ZM582 132.4h1V133.2h-1ZM583 67.9h1V68.8h-1ZM583 137.9h1V141.2h-1ZM584 63.9h1V64.7h-1ZM585 133.0h1V137.1h-1ZM586 137.6h1V138.4h-1ZM593 54.3h1V66.6h-1ZM597 67.0h1V79.1h-1ZM601 65.8h1V66.6h-1ZM602 49.7h1V51.9h-1ZM607 77.1h1V80.3h-1ZM610 138.7h1V140.2h-1ZM612 140.1h1V149.1h-1ZM615 136.0h1V138.4h-1ZM617 62.4h1V63.2h-1ZM620 146.4h1V162.7h-1ZM621 79.9h1V81.6h-1ZM621 137.8h1V138.6h-1ZM623 61.7h1V64.2h-1ZM624 129.1h1V136.2h-1ZM626 65.9h1V69.5h-1ZM626 133.2h1V156.1h-1ZM631 79.9h1V80.7h-1ZM638 151.6h1V159.8h-1ZM640 73.7h1V77.1h-1ZM641 141.0h1V146.7h-1ZM642 139.2h1V142.9h-1ZM645 132.6h1V143.2h-1ZM646 69.3h1V72.0h-1ZM648 81.0h1V81.8h-1ZM648 145.6h1V149.4h-1ZM651 132.2h1V143.1h-1ZM652 149.7h1V150.5h-1ZM654 131.3h1V145.6h-1ZM656 137.2h1V140.4h-1ZM659 82.3h1V83.8h-1ZM661 138.9h1V150.6h-1ZM662 75.8h1V76.6h-1ZM662 138.2h1V143.8h-1ZM665 64.5h1V65.3h-1ZM665 126.8h1V128.7h-1ZM666 73.9h1V76.3h-1ZM666 136.5h1V137.7h-1ZM668 130.1h1V141.7h-1ZM669 66.7h1V72.8h-1ZM670 134.1h1V137.0h-1ZM674 52.8h1V78.0h-1ZM676 62.3h1V72.1h-1Z" fill="#aaa"/>
<path d="M426.5 6.2V208.3H676.5" stroke="#000" stroke-width="1.4" fill="none" stroke-linecap="square"/>
<path d="M426.5 6.20h4.0M426.5 23.04h2M426.5 39.88h4.0M426.5 56.73h2M426.5 73.57h4.0M426.5 90.41h2M426.5 107.25h4.0M426.5 124.09h2M426.5 140.93h4.0M426.5 157.78h2M426.5 174.62h4.0M426.5 191.46h2M426.5 208.30h4.0M426.50 208.3v-4.0M451.50 208.3v-2M476.50 208.3v-4.0M501.50 208.3v-2M526.50 208.3v-4.0M551.50 208.3v-2M576.50 208.3v-4.0M601.50 208.3v-2M626.50 208.3v-4.0M651.50 208.3v-2M676.50 208.3v-4.0" stroke="#000" stroke-width="1.5" fill="none"/>
<text transform="translate(422.10,10.40) scale(1.2,1)" text-anchor="end" font-family='"Liberation Serif", serif' font-weight="bold" font-size="9.3" stroke="#000" stroke-width="0.2" >6.0×10<tspan font-size="7.5" dy="-4">2</tspan></text>
<text transform="translate(422.10,44.08) scale(1.2,1)" text-anchor="end" font-family='"Liberation Serif", serif' font-weight="bold" font-size="9.3" stroke="#000" stroke-width="0.2" >4.0×10<tspan font-size="7.5" dy="-4">2</tspan></text>
<text transform="translate(422.10,77.77) scale(1.2,1)" text-anchor="end" font-family='"Liberation Serif", serif' font-weight="bold" font-size="9.3" stroke="#000" stroke-width="0.2" >2.0×10<tspan font-size="7.5" dy="-4">2</tspan></text>
<text transform="translate(422.10,110.35) scale(1.2,1)" text-anchor="end" font-family='"Liberation Serif", serif' font-weight="bold" font-size="9.3" stroke="#000" stroke-width="0.2" >0.0</text>
<text transform="translate(422.10,145.13) scale(1.2,1)" text-anchor="end" font-family='"Liberation Serif", serif' font-weight="bold" font-size="9.3" stroke="#000" stroke-width="0.2" >-2.0×10<tspan font-size="7.5" dy="-4">2</tspan></text>
<text transform="translate(422.10,178.82) scale(1.2,1)" text-anchor="end" font-family='"Liberation Serif", serif' font-weight="bold" font-size="9.3" stroke="#000" stroke-width="0.2" >-4.0×10<tspan font-size="7.5" dy="-4">2</tspan></text>
<text transform="translate(422.10,212.50) scale(1.2,1)" text-anchor="end" font-family='"Liberation Serif", serif' font-weight="bold" font-size="9.3" stroke="#000" stroke-width="0.2" >-6.0×10<tspan font-size="7.5" dy="-4">2</tspan></text>
<text transform="translate(426.50,220.80) scale(1.2,1)" text-anchor="middle" font-family='"Liberation Serif", serif' font-weight="bold" font-size="9.3" stroke="#000" stroke-width="0.2" >0</text>
<text transform="translate(476.50,220.80) scale(1.2,1)" text-anchor="middle" font-family='"Liberation Serif", serif' font-weight="bold" font-size="9.3" stroke="#000" stroke-width="0.2" >60</text>
<text transform="translate(526.50,220.80) scale(1.2,1)" text-anchor="middle" font-family='"Liberation Serif", serif' font-weight="bold" font-size="9.3" stroke="#000" stroke-width="0.2" >120</text>
<text transform="translate(576.50,220.80) scale(1.2,1)" text-anchor="middle" font-family='"Liberation Serif", serif' font-weight="bold" font-size="9.3" stroke="#000" stroke-width="0.2" >180</text>
<text transform="translate(626.50,220.80) scale(1.2,1)" text-anchor="middle" font-family='"Liberation Serif", serif' font-weight="bold" font-size="9.3" stroke="#000" stroke-width="0.2" >240</text>
<text transform="translate(676.50,220.80) scale(1.2,1)" text-anchor="middle" font-family='"Liberation Serif", serif' font-weight="bold" font-size="9.3" stroke="#000" stroke-width="0.2" >300</text>
<text transform="translate(555.00,234.00) scale(1.05,1)" text-anchor="middle" font-family='"Liberation Serif", serif' font-weight="bold" font-size="11.6" stroke="#000" stroke-width="0.2" >Time/s</text>
<text transform="translate(378.6,115.8) rotate(-90) scale(1.075,1)" text-anchor="middle" font-family='"Liberation Serif", serif' font-weight="bold" font-size="11.65" stroke="#000" stroke-width="0.2">Vibration Acceleration/(mm/s<tspan font-size="8" dy="-4.8">2</tspan><tspan dy="4.8">)</tspan></text>
<text transform="translate(526.00,260.40) scale(1.0,1)" text-anchor="middle" font-family='"Liberation Serif", serif' font-weight="normal" font-size="17" stroke="#000" stroke-width="0.15" xml:space="preserve">(b) Y Direction</text>
<path d="M242 340.7h1V399.6h-1ZM243 339.4h1V402.1h-1ZM244 347.3h1V405.9h-1ZM245 348.0h1V403.7h-1ZM246 351.2h1V405.7h-1ZM247 360.2h1V403.2h-1ZM248 357.7h1V397.3h-1ZM249 357.0h1V398.1h-1ZM250 358.1h1V396.0h-1ZM251 361.4h1V390.4h-1ZM252 360.9h1V392.7h-1ZM253 358.8h1V393.1h-1ZM254 356.6h1V401.1h-1ZM255 346.9h1V401.6h-1ZM256 340.4h1V408.4h-1ZM257 341.1h1V410.9h-1ZM258 345.6h1V408.2h-1ZM259 328.2h1V414.4h-1ZM260 336.9h1V401.6h-1ZM261 336.7h1V433.3h-1ZM262 331.7h1V415.4h-1ZM263 335.0h1V407.3h-1ZM264 319.8h1V421.0h-1ZM265 320.1h1V424.4h-1ZM266 314.5h1V441.6h-1ZM267 318.8h1V425.4h-1ZM268 330.4h1V437.2h-1ZM269 323.2h1V422.7h-1ZM270 311.7h1V452.9h-1ZM271 322.7h1V437.8h-1ZM272 287.5h1V454.0h-1ZM273 317.4h1V424.0h-1ZM274 319.4h1V443.5h-1ZM275 301.3h1V427.8h-1ZM276 307.4h1V447.7h-1ZM277 317.3h1V451.3h-1ZM278 320.9h1V425.2h-1ZM279 313.1h1V430.4h-1ZM280 307.7h1V429.5h-1ZM281 307.4h1V424.9h-1ZM282 317.9h1V433.8h-1ZM283 311.8h1V429.2h-1ZM284 309.5h1V421.9h-1ZM285 312.3h1V437.2h-1ZM286 351.5h1V439.8h-1ZM287 329.6h1V421.8h-1ZM288 327.7h1V432.0h-1ZM289 321.4h1V440.6h-1ZM290 316.4h1V439.8h-1ZM291 306.9h1V433.9h-1ZM292 308.3h1V451.9h-1ZM293 314.8h1V452.1h-1ZM294 311.5h1V449.8h-1ZM295 290.9h1V438.8h-1ZM296 317.8h1V463.5h-1ZM297 306.6h1V461.0h-1ZM298 291.2h1V435.5h-1ZM299 307.6h1V438.4h-1ZM300 336.2h1V453.1h-1ZM301 311.3h1V429.9h-1ZM302 321.3h1V443.2h-1ZM303 318.0h1V439.1h-1ZM304 305.2h1V430.4h-1ZM305 311.0h1V435.6h-1ZM306 318.4h1V420.4h-1ZM307 304.2h1V431.1h-1ZM308 307.5h1V414.3h-1ZM309 309.7h1V459.5h-1ZM310 305.8h1V449.9h-1ZM311 307.6h1V447.4h-1ZM312 315.5h1V437.9h-1ZM313 317.9h1V445.7h-1ZM314 313.6h1V449.0h-1ZM315 324.6h1V447.6h-1ZM316 328.0h1V447.9h-1ZM317 300.1h1V428.4h-1ZM318 317.1h1V444.9h-1ZM319 313.7h1V433.2h-1ZM320 314.0h1V425.3h-1ZM321 311.2h1V425.3h-1ZM322 310.2h1V442.5h-1ZM323 310.0h1V451.4h-1ZM324 320.4h1V424.8h-1ZM325 300.7h1V463.5h-1ZM326 319.6h1V462.3h-1ZM327 298.8h1V437.5h-1ZM328 332.5h1V434.6h-1ZM329 321.7h1V437.1h-1ZM330 296.2h1V446.6h-1ZM331 310.3h1V430.0h-1ZM332 316.8h1V420.8h-1ZM333 304.6h1V433.5h-1ZM334 321.8h1V408.5h-1ZM335 309.8h1V431.5h-1ZM336 337.2h1V443.9h-1ZM337 318.3h1V437.2h-1ZM338 321.7h1V444.4h-1ZM339 308.2h1V441.9h-1ZM340 304.0h1V445.1h-1ZM341 322.8h1V439.2h-1ZM342 294.8h1V428.8h-1ZM343 319.5h1V435.7h-1ZM344 335.9h1V437.5h-1ZM345 339.5h1V452.8h-1ZM346 295.3h1V457.1h-1ZM347 314.8h1V443.0h-1ZM348 322.1h1V429.5h-1ZM349 326.0h1V428.4h-1ZM350 333.7h1V431.7h-1ZM351 315.5h1V444.2h-1ZM352 329.7h1V430.3h-1ZM353 313.9h1V424.8h-1ZM354 330.4h1V417.8h-1ZM355 347.7h1V434.5h-1ZM356 318.8h1V431.0h-1ZM357 327.4h1V430.2h-1ZM358 323.1h1V435.0h-1ZM359 305.6h1V451.1h-1ZM360 323.8h1V431.3h-1ZM361 311.6h1V448.9h-1ZM362 324.8h1V442.0h-1ZM363 329.8h1V431.5h-1ZM364 315.5h1V441.2h-1ZM365 324.5h1V432.0h-1ZM366 303.1h1V425.6h-1ZM367 306.7h1V430.8h-1ZM368 316.8h1V423.3h-1ZM369 311.8h1V437.0h-1ZM370 312.9h1V431.1h-1ZM371 321.8h1V435.7h-1ZM372 310.5h1V437.4h-1ZM373 322.1h1V398.6h-1ZM374 314.1h1V430.7h-1ZM375 329.2h1V412.2h-1ZM376 318.1h1V433.8h-1ZM377 314.3h1V425.0h-1ZM378 326.2h1V437.7h-1ZM379 322.4h1V447.4h-1ZM380 323.7h1V413.0h-1ZM381 310.8h1V428.2h-1ZM382 325.7h1V422.4h-1ZM383 313.2h1V407.7h-1ZM384 301.2h1V431.8h-1ZM385 312.8h1V427.6h-1ZM386 333.1h1V423.7h-1ZM387 316.0h1V422.6h-1ZM388 308.1h1V462.8h-1ZM389 322.9h1V427.8h-1ZM390 310.7h1V414.2h-1ZM391 315.3h1V422.6h-1ZM392 317.1h1V427.8h-1ZM393 323.6h1V426.9h-1ZM394 325.9h1V429.3h-1ZM395 323.5h1V420.5h-1ZM396 320.4h1V437.4h-1ZM397 315.9h1V427.8h-1ZM398 317.0h1V419.4h-1ZM399 322.4h1V424.5h-1ZM400 316.9h1V428.3h-1ZM401 311.7h1V440.1h-1ZM402 331.9h1V435.6h-1ZM403 323.2h1V427.1h-1ZM404 324.2h1V430.4h-1ZM405 318.6h1V432.0h-1ZM406 320.1h1V449.5h-1ZM407 321.4h1V425.5h-1ZM408 328.9h1V438.9h-1ZM409 315.4h1V444.1h-1ZM410 320.8h1V427.5h-1ZM411 338.4h1V438.4h-1ZM412 322.3h1V436.0h-1ZM413 332.8h1V427.5h-1ZM414 305.1h1V435.9h-1ZM415 326.2h1V440.5h-1ZM416 325.9h1V441.6h-1ZM417 321.7h1V428.5h-1ZM418 324.7h1V432.3h-1ZM419 322.7h1V452.7h-1ZM420 306.7h1V418.2h-1ZM421 318.8h1V430.2h-1ZM422 312.2h1V435.6h-1ZM423 309.1h1V429.0h-1ZM424 329.8h1V434.1h-1ZM425 303.2h1V429.8h-1ZM426 312.9h1V435.6h-1ZM427 308.3h1V442.1h-1ZM428 325.5h1V428.5h-1ZM429 305.8h1V433.9h-1ZM430 308.3h1V432.4h-1ZM431 322.1h1V428.7h-1ZM432 297.1h1V432.6h-1ZM433 317.9h1V421.1h-1ZM434 328.7h1V440.4h-1ZM435 322.5h1V449.7h-1ZM436 313.2h1V449.1h-1ZM437 308.3h1V444.1h-1ZM438 311.2h1V421.1h-1ZM439 305.2h1V445.2h-1ZM440 303.2h1V422.6h-1ZM441 331.2h1V428.5h-1ZM442 324.1h1V446.0h-1ZM443 329.4h1V419.1h-1ZM444 320.2h1V439.1h-1ZM445 308.3h1V434.7h-1ZM446 316.9h1V431.4h-1ZM447 332.4h1V422.2h-1ZM448 324.9h1V433.0h-1ZM449 311.8h1V422.6h-1ZM450 326.4h1V434.3h-1ZM451 322.4h1V437.3h-1ZM452 318.9h1V414.3h-1ZM453 339.5h1V423.5h-1ZM454 315.0h1V426.3h-1ZM455 318.7h1V418.0h-1ZM456 316.0h1V418.7h-1ZM457 330.6h1V430.5h-1ZM458 328.2h1V427.7h-1ZM459 325.8h1V413.2h-1ZM460 316.6h1V423.5h-1ZM461 317.6h1V433.2h-1ZM462 316.2h1V416.3h-1ZM463 301.8h1V419.7h-1ZM464 309.2h1V444.8h-1ZM465 330.4h1V443.2h-1ZM466 331.7h1V414.7h-1ZM467 307.7h1V416.9h-1ZM468 324.3h1V433.3h-1ZM469 305.0h1V417.4h-1ZM470 299.8h1V425.8h-1ZM471 323.6h1V423.8h-1ZM472 322.1h1V433.3h-1ZM473 320.0h1V403.9h-1ZM474 330.4h1V406.9h-1ZM475 330.3h1V417.8h-1ZM476 323.2h1V442.4h-1ZM477 308.8h1V432.5h-1ZM478 320.9h1V417.5h-1ZM479 319.2h1V440.8h-1ZM480 322.7h1V442.1h-1ZM481 332.6h1V431.1h-1ZM482 304.9h1V429.3h-1ZM483 342.7h1V437.7h-1ZM484 325.1h1V446.2h-1ZM485 312.0h1V435.5h-1ZM486 331.6h1V439.9h-1ZM487 311.4h1V432.8h-1ZM488 305.4h1V428.4h-1ZM489 327.5h1V422.1h-1ZM490 317.2h1V432.9h-1ZM491 330.1h1V428.1h-1ZM492 313.3h1V429.4h-1Z" fill="#000"/>
<path d="M244 405.9h1V406.7h-1ZM245 403.7h1V407.4h-1ZM246 405.7h1V414.6h-1ZM247 359.4h1V360.2h-1ZM248 397.3h1V402.1h-1ZM249 347.6h1V357.0h-1ZM250 357.3h1V358.1h-1ZM251 390.4h1V396.1h-1ZM253 393.1h1V394.6h-1ZM254 401.1h1V413.3h-1ZM255 401.6h1V406.4h-1ZM257 410.9h1V426.8h-1ZM259 324.0h1V328.2h-1ZM261 433.3h1V434.1h-1ZM262 415.4h1V420.4h-1ZM265 424.4h1V437.1h-1ZM268 323.6h1V330.4h-1ZM269 303.9h1V323.2h-1ZM271 308.4h1V322.7h-1ZM273 424.0h1V430.2h-1ZM274 292.9h1V319.4h-1ZM277 451.3h1V463.5h-1ZM284 421.9h1V456.4h-1ZM292 287.5h1V308.3h-1ZM294 449.8h1V452.2h-1ZM295 287.5h1V290.9h-1ZM296 313.4h1V317.8h-1ZM298 287.5h1V291.2h-1ZM299 298.0h1V307.6h-1ZM301 289.1h1V311.3h-1ZM302 320.5h1V321.3h-1ZM309 287.5h1V309.7h-1ZM309 459.5h1V463.5h-1ZM313 293.9h1V317.9h-1ZM318 310.2h1V317.1h-1ZM337 437.2h1V455.7h-1ZM340 301.3h1V304.0h-1ZM341 318.5h1V322.8h-1ZM344 437.5h1V450.3h-1ZM346 457.1h1V463.5h-1ZM352 325.3h1V329.7h-1ZM352 430.3h1V449.5h-1ZM353 307.5h1V313.9h-1ZM353 424.8h1V431.7h-1ZM355 324.4h1V347.7h-1ZM356 312.6h1V318.8h-1ZM359 287.5h1V305.6h-1ZM359 451.1h1V459.9h-1ZM360 316.7h1V323.8h-1ZM362 442.0h1V448.5h-1ZM363 321.3h1V329.8h-1ZM364 310.0h1V315.5h-1ZM365 287.5h1V324.5h-1ZM365 432.0h1V440.6h-1ZM366 299.4h1V303.1h-1ZM367 430.8h1V455.4h-1ZM369 292.2h1V311.8h-1ZM370 299.2h1V312.9h-1ZM372 437.4h1V457.8h-1ZM373 398.6h1V405.6h-1ZM376 433.8h1V444.0h-1ZM378 325.4h1V326.2h-1ZM378 437.7h1V463.5h-1ZM382 422.4h1V463.5h-1ZM383 287.5h1V313.2h-1ZM384 296.5h1V301.2h-1ZM384 431.8h1V437.3h-1ZM385 427.6h1V428.4h-1ZM386 423.7h1V433.5h-1ZM387 422.6h1V426.3h-1ZM391 287.5h1V315.3h-1ZM391 422.6h1V434.0h-1ZM392 312.6h1V317.1h-1ZM392 427.8h1V447.6h-1ZM393 313.7h1V323.6h-1ZM398 419.4h1V425.9h-1ZM399 424.5h1V425.4h-1ZM400 428.3h1V434.0h-1ZM404 313.8h1V324.2h-1ZM404 430.4h1V463.5h-1ZM406 315.3h1V320.1h-1ZM409 444.1h1V450.6h-1ZM410 427.5h1V434.8h-1ZM411 321.3h1V338.4h-1ZM413 320.8h1V332.8h-1ZM415 314.7h1V326.2h-1ZM418 432.3h1V460.4h-1ZM419 452.7h1V463.5h-1ZM420 305.1h1V306.7h-1ZM421 430.2h1V457.3h-1ZM422 302.2h1V312.2h-1ZM422 435.6h1V450.1h-1ZM424 434.1h1V437.8h-1ZM425 429.8h1V438.7h-1ZM428 428.5h1V429.3h-1ZM430 432.4h1V450.6h-1ZM431 315.4h1V322.1h-1ZM434 440.4h1V445.3h-1ZM435 316.3h1V322.5h-1ZM440 422.6h1V423.6h-1ZM442 446.0h1V457.2h-1ZM444 298.4h1V320.2h-1ZM448 287.5h1V324.9h-1ZM448 433.0h1V440.5h-1ZM449 422.6h1V430.4h-1ZM454 300.9h1V315.0h-1ZM456 312.3h1V316.0h-1ZM458 327.4h1V328.2h-1ZM459 325.0h1V325.8h-1ZM459 413.2h1V423.4h-1ZM460 423.5h1V437.0h-1ZM462 303.1h1V316.2h-1ZM463 287.5h1V301.8h-1ZM466 328.9h1V331.7h-1ZM469 417.4h1V423.2h-1ZM470 290.8h1V299.8h-1ZM471 299.5h1V323.6h-1ZM472 321.3h1V322.1h-1ZM482 429.3h1V441.4h-1ZM483 336.6h1V342.7h-1ZM485 435.5h1V436.3h-1ZM486 439.9h1V444.0h-1ZM491 292.7h1V330.1h-1Z" fill="#333"/>
<path d="M242 399.6h1V400.4h-1ZM243 322.0h1V339.4h-1ZM246 346.0h1V351.2h-1ZM252 392.7h1V396.8h-1ZM255 339.0h1V346.9h-1ZM258 331.2h1V345.6h-1ZM260 328.1h1V336.9h-1ZM261 322.1h1V336.7h-1ZM263 407.3h1V412.6h-1ZM266 441.6h1V463.5h-1ZM267 313.9h1V318.8h-1ZM268 437.2h1V463.5h-1ZM270 288.7h1V311.7h-1ZM270 452.9h1V457.8h-1ZM273 315.1h1V317.4h-1ZM280 305.2h1V307.7h-1ZM280 429.5h1V435.6h-1ZM281 424.9h1V452.3h-1ZM283 429.2h1V446.1h-1ZM286 332.4h1V351.5h-1ZM290 439.8h1V463.5h-1ZM295 438.8h1V441.4h-1ZM297 461.0h1V463.5h-1ZM298 435.5h1V439.7h-1ZM304 430.4h1V447.8h-1ZM305 294.9h1V311.0h-1ZM308 304.1h1V307.5h-1ZM312 289.8h1V315.5h-1ZM314 449.0h1V463.5h-1ZM315 447.6h1V452.0h-1ZM316 447.9h1V455.7h-1ZM317 428.4h1V463.5h-1ZM319 433.2h1V463.5h-1ZM320 308.3h1V314.0h-1ZM324 287.5h1V320.4h-1ZM324 424.8h1V425.6h-1ZM325 287.5h1V300.7h-1ZM326 462.3h1V463.5h-1ZM328 434.6h1V459.6h-1ZM329 298.9h1V321.7h-1ZM330 291.2h1V296.2h-1ZM331 308.6h1V310.3h-1ZM331 430.0h1V449.9h-1ZM334 299.5h1V321.8h-1ZM336 443.9h1V449.4h-1ZM339 441.9h1V463.5h-1ZM340 445.1h1V463.5h-1ZM341 439.2h1V462.8h-1ZM344 325.8h1V335.9h-1ZM345 336.3h1V339.5h-1ZM347 443.0h1V463.5h-1ZM348 429.5h1V436.9h-1ZM350 431.7h1V463.5h-1ZM355 434.5h1V455.7h-1ZM357 322.8h1V327.4h-1ZM357 430.2h1V445.7h-1ZM358 287.5h1V323.1h-1ZM358 435.0h1V439.4h-1ZM361 448.9h1V452.9h-1ZM364 441.2h1V452.5h-1ZM371 435.7h1V447.8h-1ZM372 306.6h1V310.5h-1ZM373 314.7h1V322.1h-1ZM375 318.2h1V329.2h-1ZM375 412.2h1V435.3h-1ZM381 296.6h1V310.8h-1ZM385 312.0h1V312.8h-1ZM386 322.1h1V333.1h-1ZM388 307.1h1V308.1h-1ZM394 429.3h1V430.6h-1ZM395 314.3h1V323.5h-1ZM395 420.5h1V456.3h-1ZM396 318.5h1V320.4h-1ZM397 315.0h1V315.9h-1ZM405 287.8h1V318.6h-1ZM407 315.1h1V321.4h-1ZM408 438.9h1V448.0h-1ZM412 321.5h1V322.3h-1ZM414 299.7h1V305.1h-1ZM416 441.6h1V463.5h-1ZM417 428.5h1V430.9h-1ZM426 287.5h1V312.9h-1ZM426 435.6h1V459.7h-1ZM429 287.5h1V305.8h-1ZM433 317.1h1V317.9h-1ZM434 311.9h1V328.7h-1ZM436 312.4h1V313.2h-1ZM437 444.1h1V463.5h-1ZM439 445.2h1V459.6h-1ZM441 325.6h1V331.2h-1ZM441 428.5h1V434.4h-1ZM445 297.2h1V308.3h-1ZM447 422.2h1V429.6h-1ZM450 434.3h1V437.1h-1ZM451 312.7h1V322.4h-1ZM451 437.3h1V438.1h-1ZM455 418.0h1V434.2h-1ZM457 430.5h1V453.6h-1ZM460 305.7h1V316.6h-1ZM462 416.3h1V427.5h-1ZM466 414.7h1V430.0h-1ZM467 416.9h1V438.3h-1ZM468 433.3h1V463.5h-1ZM473 403.9h1V404.7h-1ZM478 417.5h1V418.8h-1ZM479 440.8h1V463.5h-1ZM481 431.1h1V431.9h-1ZM483 437.7h1V458.3h-1ZM484 299.4h1V325.1h-1ZM484 446.2h1V450.8h-1ZM485 311.2h1V312.0h-1ZM489 314.1h1V327.5h-1ZM489 422.1h1V461.8h-1ZM492 309.7h1V313.3h-1Z" fill="#555"/>
<path d="M244 346.5h1V347.3h-1ZM247 403.2h1V404.0h-1ZM250 396.0h1V405.1h-1ZM252 356.9h1V360.9h-1ZM253 357.2h1V358.8h-1ZM254 351.1h1V356.6h-1ZM256 408.4h1V421.7h-1ZM257 337.2h1V341.1h-1ZM258 408.2h1V409.6h-1ZM259 414.4h1V415.2h-1ZM263 329.1h1V335.0h-1ZM264 421.0h1V463.5h-1ZM266 287.5h1V314.5h-1ZM267 425.4h1V426.2h-1ZM271 437.8h1V447.8h-1ZM272 454.0h1V463.5h-1ZM274 443.5h1V446.8h-1ZM275 287.5h1V301.3h-1ZM277 312.7h1V317.3h-1ZM278 287.5h1V320.9h-1ZM278 425.2h1V433.9h-1ZM279 298.5h1V313.1h-1ZM279 430.4h1V442.5h-1ZM282 307.8h1V317.9h-1ZM283 287.5h1V311.8h-1ZM285 301.7h1V312.3h-1ZM287 322.7h1V329.6h-1ZM287 421.8h1V444.0h-1ZM288 305.5h1V327.7h-1ZM288 432.0h1V436.9h-1ZM289 287.5h1V321.4h-1ZM290 313.4h1V316.4h-1ZM291 288.2h1V306.9h-1ZM293 452.1h1V462.6h-1ZM297 287.8h1V306.6h-1ZM299 438.4h1V463.5h-1ZM300 453.1h1V456.4h-1ZM302 443.2h1V444.0h-1ZM303 439.1h1V463.0h-1ZM305 435.6h1V447.9h-1ZM306 420.4h1V435.1h-1ZM307 287.5h1V304.2h-1ZM307 431.1h1V463.5h-1ZM310 292.9h1V305.8h-1ZM311 287.5h1V307.6h-1ZM312 437.9h1V448.5h-1ZM313 445.7h1V463.5h-1ZM314 307.3h1V313.6h-1ZM315 323.8h1V324.6h-1ZM316 321.6h1V328.0h-1ZM319 310.7h1V313.7h-1ZM321 301.5h1V311.2h-1ZM322 289.6h1V310.2h-1ZM323 287.5h1V310.0h-1ZM326 318.8h1V319.6h-1ZM327 437.5h1V439.0h-1ZM333 287.5h1V304.6h-1ZM333 433.5h1V451.4h-1ZM334 408.5h1V447.8h-1ZM335 431.5h1V433.1h-1ZM337 317.5h1V318.3h-1ZM338 444.4h1V445.2h-1ZM339 297.1h1V308.2h-1ZM342 428.8h1V437.0h-1ZM345 452.8h1V453.6h-1ZM346 292.7h1V295.3h-1ZM347 305.6h1V314.8h-1ZM348 304.7h1V322.1h-1ZM349 324.5h1V326.0h-1ZM349 428.4h1V448.9h-1ZM350 287.5h1V333.7h-1ZM356 431.0h1V438.3h-1ZM361 287.5h1V311.6h-1ZM362 324.0h1V324.8h-1ZM367 305.9h1V306.7h-1ZM374 430.7h1V432.7h-1ZM377 287.5h1V314.3h-1ZM377 425.0h1V434.4h-1ZM381 428.2h1V454.4h-1ZM382 296.3h1V325.7h-1ZM383 407.7h1V434.1h-1ZM388 462.8h1V463.5h-1ZM390 304.5h1V310.7h-1ZM390 414.2h1V429.4h-1ZM393 426.9h1V433.3h-1ZM398 302.3h1V317.0h-1ZM399 312.4h1V322.4h-1ZM400 287.5h1V316.9h-1ZM401 303.2h1V311.7h-1ZM401 440.1h1V444.8h-1ZM402 435.6h1V440.2h-1ZM403 322.4h1V323.2h-1ZM405 432.0h1V463.5h-1ZM406 449.5h1V459.0h-1ZM407 425.5h1V426.6h-1ZM408 307.3h1V328.9h-1ZM412 436.0h1V438.7h-1ZM419 321.9h1V322.7h-1ZM421 312.0h1V318.8h-1ZM423 303.2h1V309.1h-1ZM424 317.5h1V329.8h-1ZM427 307.5h1V308.3h-1ZM429 433.9h1V434.7h-1ZM433 421.1h1V435.7h-1ZM438 421.1h1V425.2h-1ZM443 287.5h1V329.4h-1ZM443 419.1h1V433.6h-1ZM444 439.1h1V447.0h-1ZM445 434.7h1V450.1h-1ZM446 431.4h1V446.5h-1ZM447 287.5h1V332.4h-1ZM452 287.5h1V318.9h-1ZM453 317.4h1V339.5h-1ZM453 423.5h1V428.7h-1ZM454 426.3h1V436.3h-1ZM455 287.5h1V318.7h-1ZM456 418.7h1V459.5h-1ZM461 314.8h1V317.6h-1ZM463 419.7h1V420.5h-1ZM465 287.5h1V330.4h-1ZM469 302.6h1V305.0h-1ZM474 329.6h1V330.4h-1ZM475 324.2h1V330.3h-1ZM476 287.5h1V323.2h-1ZM477 287.5h1V308.8h-1ZM477 432.5h1V433.3h-1ZM478 311.7h1V320.9h-1ZM480 442.1h1V462.1h-1ZM481 314.7h1V332.6h-1ZM482 303.7h1V304.9h-1ZM487 298.4h1V311.4h-1ZM488 303.2h1V305.4h-1ZM488 428.4h1V452.3h-1ZM491 428.1h1V450.5h-1Z" fill="#888"/>
<path d="M242 320.9h1V340.7h-1ZM243 402.1h1V424.3h-1ZM245 338.8h1V348.0h-1ZM248 348.8h1V357.7h-1ZM249 398.1h1V399.4h-1ZM251 360.6h1V361.4h-1ZM256 332.4h1V340.4h-1ZM260 401.6h1V402.4h-1ZM262 324.7h1V331.7h-1ZM264 307.9h1V319.8h-1ZM265 287.5h1V320.1h-1ZM269 422.7h1V425.2h-1ZM275 427.8h1V441.2h-1ZM276 291.8h1V307.4h-1ZM276 447.7h1V450.8h-1ZM281 287.5h1V307.4h-1ZM282 433.8h1V435.2h-1ZM284 287.5h1V309.5h-1ZM285 437.2h1V442.0h-1ZM286 439.8h1V451.0h-1ZM289 440.6h1V446.4h-1ZM291 433.9h1V435.5h-1ZM292 451.9h1V459.9h-1ZM293 306.0h1V314.8h-1ZM294 307.5h1V311.5h-1ZM300 320.0h1V336.2h-1ZM301 429.9h1V438.0h-1ZM303 287.5h1V318.0h-1ZM304 295.2h1V305.2h-1ZM306 310.0h1V318.4h-1ZM308 414.3h1V463.5h-1ZM310 449.9h1V463.5h-1ZM311 447.4h1V459.4h-1ZM317 287.5h1V300.1h-1ZM318 444.9h1V463.5h-1ZM320 425.3h1V426.5h-1ZM321 425.3h1V436.8h-1ZM322 442.5h1V445.0h-1ZM323 451.4h1V463.5h-1ZM327 287.5h1V298.8h-1ZM328 306.2h1V332.5h-1ZM329 437.1h1V461.5h-1ZM330 446.6h1V461.0h-1ZM332 287.5h1V316.8h-1ZM332 420.8h1V430.0h-1ZM335 298.8h1V309.8h-1ZM336 325.4h1V337.2h-1ZM338 308.3h1V321.7h-1ZM342 287.5h1V294.8h-1ZM343 287.5h1V319.5h-1ZM343 435.7h1V463.5h-1ZM351 311.2h1V315.5h-1ZM351 444.2h1V445.0h-1ZM354 326.4h1V330.4h-1ZM354 417.8h1V455.0h-1ZM360 431.3h1V447.6h-1ZM363 431.5h1V456.9h-1ZM366 425.6h1V435.5h-1ZM368 287.5h1V316.8h-1ZM368 423.3h1V426.3h-1ZM369 437.0h1V437.8h-1ZM370 431.1h1V453.0h-1ZM371 318.0h1V321.8h-1ZM374 287.7h1V314.1h-1ZM376 315.8h1V318.1h-1ZM379 304.7h1V322.4h-1ZM379 447.4h1V452.1h-1ZM380 312.5h1V323.7h-1ZM380 413.0h1V430.5h-1ZM387 287.5h1V316.0h-1ZM389 313.6h1V322.9h-1ZM389 427.8h1V431.4h-1ZM394 316.4h1V325.9h-1ZM396 437.4h1V442.9h-1ZM397 427.8h1V442.3h-1ZM402 305.7h1V331.9h-1ZM403 427.1h1V434.9h-1ZM409 314.6h1V315.4h-1ZM410 320.0h1V320.8h-1ZM411 438.4h1V439.2h-1ZM413 427.5h1V463.5h-1ZM414 435.9h1V463.5h-1ZM415 440.5h1V463.5h-1ZM416 312.6h1V325.9h-1ZM417 319.1h1V321.7h-1ZM418 308.6h1V324.7h-1ZM420 418.2h1V430.5h-1ZM423 429.0h1V430.3h-1ZM425 299.3h1V303.2h-1ZM427 442.1h1V446.7h-1ZM428 308.9h1V325.5h-1ZM430 287.5h1V308.3h-1ZM431 428.7h1V435.9h-1ZM432 287.5h1V297.1h-1ZM432 432.6h1V462.3h-1ZM435 449.7h1V452.2h-1ZM436 449.1h1V463.5h-1ZM437 305.0h1V308.3h-1ZM438 287.5h1V311.2h-1ZM439 301.6h1V305.2h-1ZM440 302.4h1V303.2h-1ZM442 321.0h1V324.1h-1ZM446 314.7h1V316.9h-1ZM449 295.3h1V311.8h-1ZM450 305.8h1V326.4h-1ZM452 414.3h1V438.2h-1ZM457 303.4h1V330.6h-1ZM458 427.7h1V431.1h-1ZM461 433.2h1V441.7h-1ZM464 297.4h1V309.2h-1ZM464 444.8h1V455.9h-1ZM465 443.2h1V448.2h-1ZM467 303.6h1V307.7h-1ZM468 314.0h1V324.3h-1ZM470 425.8h1V437.9h-1ZM471 423.8h1V459.2h-1ZM472 433.3h1V463.2h-1ZM473 318.1h1V320.0h-1ZM474 406.9h1V426.5h-1ZM475 417.8h1V463.5h-1ZM476 442.4h1V456.4h-1ZM479 294.9h1V319.2h-1ZM480 311.4h1V322.7h-1ZM486 325.9h1V331.6h-1ZM487 432.8h1V436.8h-1ZM490 303.3h1V317.2h-1ZM490 432.9h1V443.6h-1ZM492 429.4h1V437.4h-1Z" fill="#aaa"/>
<path d="M241.6 277.3V473.2H492.8" stroke="#333" stroke-width="1.15" fill="none" stroke-linecap="square"/>
<path d="M241.6 277.30h4.2M241.6 289.54h2.4M241.6 301.79h4.2M241.6 314.03h2.4M241.6 326.27h4.2M241.6 338.52h2.4M241.6 350.76h4.2M241.6 363.01h2.4M241.6 375.25h4.2M241.6 387.49h2.4M241.6 399.74h4.2M241.6 411.98h2.4M241.6 424.23h4.2M241.6 436.47h2.4M241.6 448.71h4.2M241.6 460.96h2.4M241.6 473.20h4.2M241.60 473.2v-4.2M266.72 473.2v-2.4M291.84 473.2v-4.2M316.96 473.2v-2.4M342.08 473.2v-4.2M367.20 473.2v-2.4M392.32 473.2v-4.2M417.44 473.2v-2.4M442.56 473.2v-4.2M467.68 473.2v-2.4M492.80 473.2v-4.2" stroke="#333" stroke-width="1.2" fill="none"/>
<text transform="translate(237.20,280.60) scale(1.2,1)" text-anchor="end" font-family='"Liberation Serif", serif' font-weight="bold" font-size="9.3" stroke="#000" stroke-width="0.2" >8.0×10<tspan font-size="7.5" dy="-4">2</tspan></text>
<text transform="translate(237.20,305.09) scale(1.2,1)" text-anchor="end" font-family='"Liberation Serif", serif' font-weight="bold" font-size="9.3" stroke="#000" stroke-width="0.2" >6.0×10<tspan font-size="7.5" dy="-4">2</tspan></text>
<text transform="translate(237.20,329.57) scale(1.2,1)" text-anchor="end" font-family='"Liberation Serif", serif' font-weight="bold" font-size="9.3" stroke="#000" stroke-width="0.2" >4.0×10<tspan font-size="7.5" dy="-4">2</tspan></text>
<text transform="translate(237.20,354.06) scale(1.2,1)" text-anchor="end" font-family='"Liberation Serif", serif' font-weight="bold" font-size="9.3" stroke="#000" stroke-width="0.2" >2.0×10<tspan font-size="7.5" dy="-4">2</tspan></text>
<text transform="translate(237.20,377.45) scale(1.2,1)" text-anchor="end" font-family='"Liberation Serif", serif' font-weight="bold" font-size="9.3" stroke="#000" stroke-width="0.2" >0.0</text>
<text transform="translate(237.20,403.04) scale(1.2,1)" text-anchor="end" font-family='"Liberation Serif", serif' font-weight="bold" font-size="9.3" stroke="#000" stroke-width="0.2" >-2.0×10<tspan font-size="7.5" dy="-4">2</tspan></text>
<text transform="translate(237.20,427.53) scale(1.2,1)" text-anchor="end" font-family='"Liberation Serif", serif' font-weight="bold" font-size="9.3" stroke="#000" stroke-width="0.2" >-4.0×10<tspan font-size="7.5" dy="-4">2</tspan></text>
<text transform="translate(237.20,452.01) scale(1.2,1)" text-anchor="end" font-family='"Liberation Serif", serif' font-weight="bold" font-size="9.3" stroke="#000" stroke-width="0.2" >-6.0×10<tspan font-size="7.5" dy="-4">2</tspan></text>
<text transform="translate(237.20,476.50) scale(1.2,1)" text-anchor="end" font-family='"Liberation Serif", serif' font-weight="bold" font-size="9.3" stroke="#000" stroke-width="0.2" >-8.0×10<tspan font-size="7.5" dy="-4">2</tspan></text>
<text transform="translate(241.60,485.70) scale(1.2,1)" text-anchor="middle" font-family='"Liberation Serif", serif' font-weight="bold" font-size="9.3" stroke="#000" stroke-width="0.2" >0</text>
<text transform="translate(291.84,485.70) scale(1.2,1)" text-anchor="middle" font-family='"Liberation Serif", serif' font-weight="bold" font-size="9.3" stroke="#000" stroke-width="0.2" >60</text>
<text transform="translate(342.08,485.70) scale(1.2,1)" text-anchor="middle" font-family='"Liberation Serif", serif' font-weight="bold" font-size="9.3" stroke="#000" stroke-width="0.2" >120</text>
<text transform="translate(392.32,485.70) scale(1.2,1)" text-anchor="middle" font-family='"Liberation Serif", serif' font-weight="bold" font-size="9.3" stroke="#000" stroke-width="0.2" >180</text>
<text transform="translate(442.56,485.70) scale(1.2,1)" text-anchor="middle" font-family='"Liberation Serif", serif' font-weight="bold" font-size="9.3" stroke="#000" stroke-width="0.2" >240</text>
<text transform="translate(492.80,485.70) scale(1.2,1)" text-anchor="middle" font-family='"Liberation Serif", serif' font-weight="bold" font-size="9.3" stroke="#000" stroke-width="0.2" >300</text>
<text transform="translate(366.00,499.00) scale(1.05,1)" text-anchor="middle" font-family='"Liberation Serif", serif' font-weight="bold" font-size="11.6" stroke="#000" stroke-width="0.2" >Time/s</text>
<text transform="translate(195.0,376) rotate(-90) scale(1.058,1)" text-anchor="middle" font-family='"Liberation Serif", serif' font-weight="bold" font-size="11.65" stroke="#000" stroke-width="0.2">Vibration Acceleration/(mm/s<tspan font-size="8" dy="-4.8">2</tspan><tspan dy="4.8">)</tspan></text>
<text transform="translate(356.00,526.10) scale(1.03,1)" text-anchor="middle" font-family='"Liberation Serif", serif' font-weight="normal" font-size="17" stroke="#000" stroke-width="0.15" xml:space="preserve">(a)  Z Direction</text>
</svg></body></html>
